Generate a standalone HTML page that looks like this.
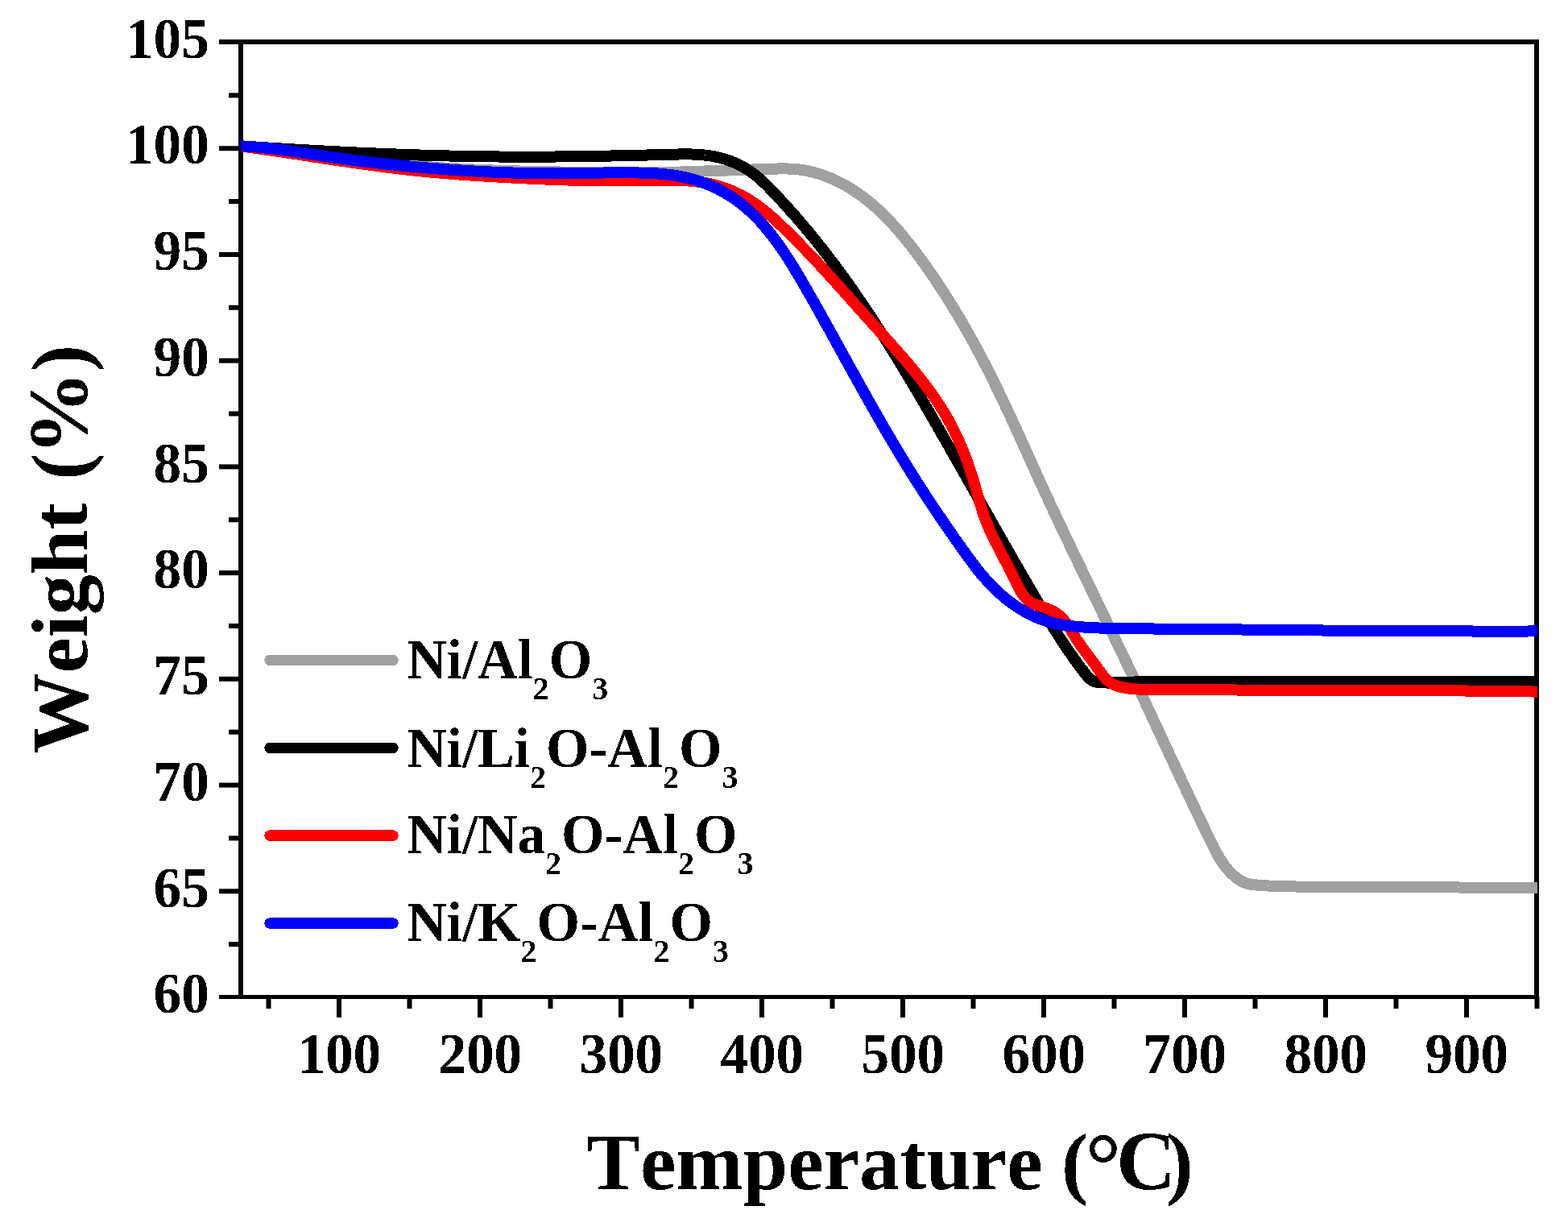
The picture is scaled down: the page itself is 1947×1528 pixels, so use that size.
<!DOCTYPE html>
<html><head><meta charset="utf-8"><title>TGA curves</title>
<style>
html,body{margin:0;padding:0;background:#fff;overflow:hidden;width:1947px;height:1528px;}
svg{display:block;}
text{font-family:"Liberation Serif","Times New Roman",serif;font-weight:bold;fill:#000;font-kerning:none;font-feature-settings:"kern" 0;}
.tl text{font-size:71px;}
.ttl{font-size:100px;}
.lg{font-size:70.5px;}
.s{font-size:41px;}
</style></head><body>
<svg width="1947" height="1528" viewBox="0 0 1947 1528">
<defs><clipPath id="plotclip"><rect x="299" y="0" width="1610" height="1528"/></clipPath><filter id="bin" x="0" y="0" width="100%" height="100%" filterUnits="userSpaceOnUse" color-interpolation-filters="sRGB"><feComponentTransfer><feFuncA type="discrete" tableValues="0 1"/></feComponentTransfer></filter></defs>
<rect width="1947" height="1528" fill="#fff"/>
<g fill="#000">
<rect x="296" y="49" width="1615" height="6"/>
<rect x="296" y="1235" width="1615" height="5"/>
<rect x="296" y="49" width="6" height="1191"/>
<rect x="1905" y="49" width="6" height="1191"/>
<rect x="284" y="1169.14" width="15" height="6"/>
<rect x="272" y="1103.28" width="27" height="6"/>
<rect x="284" y="1037.42" width="15" height="6"/>
<rect x="272" y="971.56" width="27" height="6"/>
<rect x="284" y="905.69" width="15" height="6"/>
<rect x="272" y="839.83" width="27" height="6"/>
<rect x="284" y="773.97" width="15" height="6"/>
<rect x="272" y="708.11" width="27" height="6"/>
<rect x="284" y="642.25" width="15" height="6"/>
<rect x="272" y="576.39" width="27" height="6"/>
<rect x="284" y="510.53" width="15" height="6"/>
<rect x="272" y="444.67" width="27" height="6"/>
<rect x="284" y="378.81" width="15" height="6"/>
<rect x="272" y="312.94" width="27" height="6"/>
<rect x="284" y="247.08" width="15" height="6"/>
<rect x="272" y="181.22" width="27" height="6"/>
<rect x="284" y="115.36" width="15" height="6"/>
<rect x="272" y="49" width="30" height="6"/>
<rect x="272" y="1235" width="30" height="5"/>
<rect x="330.50" y="1237" width="6" height="15"/>
<rect x="418.00" y="1237" width="6" height="26"/>
<rect x="505.50" y="1237" width="6" height="15"/>
<rect x="593.00" y="1237" width="6" height="26"/>
<rect x="680.50" y="1237" width="6" height="15"/>
<rect x="768.00" y="1237" width="6" height="26"/>
<rect x="855.50" y="1237" width="6" height="15"/>
<rect x="943.00" y="1237" width="6" height="26"/>
<rect x="1030.50" y="1237" width="6" height="15"/>
<rect x="1118.00" y="1237" width="6" height="26"/>
<rect x="1205.50" y="1237" width="6" height="15"/>
<rect x="1293.00" y="1237" width="6" height="26"/>
<rect x="1380.50" y="1237" width="6" height="15"/>
<rect x="1468.00" y="1237" width="6" height="26"/>
<rect x="1555.50" y="1237" width="6" height="15"/>
<rect x="1643.00" y="1237" width="6" height="26"/>
<rect x="1730.50" y="1237" width="6" height="15"/>
<rect x="1818.00" y="1237" width="6" height="26"/>
<rect x="1905.50" y="1237" width="6" height="15"/>
</g>
<g filter="url(#bin)">
<g class="tl"><text transform="translate(259.8,1257.2) scale(0.975,1)" text-anchor="end">60</text><text transform="translate(259.8,1125.5) scale(0.975,1)" text-anchor="end">65</text><text transform="translate(259.8,993.8) scale(0.975,1)" text-anchor="end">70</text><text transform="translate(259.8,862.0) scale(0.975,1)" text-anchor="end">75</text><text transform="translate(259.8,730.3) scale(0.975,1)" text-anchor="end">80</text><text transform="translate(259.8,598.6) scale(0.975,1)" text-anchor="end">85</text><text transform="translate(259.8,466.9) scale(0.975,1)" text-anchor="end">90</text><text transform="translate(259.8,335.1) scale(0.975,1)" text-anchor="end">95</text><text transform="translate(259.8,203.4) scale(0.975,1)" text-anchor="end">100</text><text transform="translate(259.8,71.7) scale(0.975,1)" text-anchor="end">105</text><text transform="translate(421.3,1332) scale(0.975,1)" text-anchor="middle">100</text><text transform="translate(596.3,1332) scale(0.975,1)" text-anchor="middle">200</text><text transform="translate(771.3,1332) scale(0.975,1)" text-anchor="middle">300</text><text transform="translate(946.3,1332) scale(0.975,1)" text-anchor="middle">400</text><text transform="translate(1121.3,1332) scale(0.975,1)" text-anchor="middle">500</text><text transform="translate(1296.3,1332) scale(0.975,1)" text-anchor="middle">600</text><text transform="translate(1471.3,1332) scale(0.975,1)" text-anchor="middle">700</text><text transform="translate(1646.3,1332) scale(0.975,1)" text-anchor="middle">800</text><text transform="translate(1821.3,1332) scale(0.975,1)" text-anchor="middle">900</text></g>
<text class="ttl" x="728.2" y="1476">Temperature <tspan x="1318.1">(</tspan><tspan x="1347.5" dy="7.5" style="font-size:112px">°</tspan><tspan x="1386.1" dy="-7.5" style="font-size:103px">C</tspan><tspan x="1448.3">)</tspan></text>
<text class="ttl" transform="rotate(-90)" x="-935.5" y="108">Weight <tspan x="-595.7">(</tspan><tspan x="-564.8" style="font-size:104px">%</tspan><tspan x="-461.3">)</tspan></text>
</g>
<g clip-path="url(#plotclip)">
<path d="M294.1,180.5L295.6,180.7L297.0,180.9L298.5,181.0L300.0,181.2L301.5,181.4L303.0,181.5L304.5,181.7L306.0,181.9L307.5,182.1L309.0,182.2L310.5,182.4L311.9,182.6L313.4,182.7L314.9,182.9L316.4,183.1L317.9,183.3L319.4,183.4L320.9,183.6L322.4,183.8L323.9,184.0L325.4,184.1L326.8,184.3L328.3,184.5L329.8,184.7L331.3,184.8L332.8,185.0L334.3,185.2L335.8,185.4L337.3,185.6L338.8,185.7L340.2,185.9L341.7,186.1L343.2,186.3L344.7,186.5L346.2,186.6L347.7,186.8L349.2,187.0L350.7,187.2L352.2,187.4L353.6,187.5L355.1,187.7L356.6,187.9L358.1,188.1L359.6,188.3L361.1,188.5L362.6,188.6L364.1,188.8L365.6,189.0L367.0,189.2L368.5,189.4L370.0,189.6L371.5,189.7L373.0,189.9L374.5,190.1L376.0,190.3L377.5,190.5L379.0,190.7L380.4,190.8L381.9,191.0L383.4,191.2L384.9,191.4L386.4,191.6L387.9,191.8L389.4,191.9L390.9,192.1L392.4,192.3L393.8,192.5L395.3,192.7L396.8,192.9L398.3,193.0L399.8,193.2L401.3,193.4L402.8,193.6L404.3,193.8L405.8,193.9L407.2,194.1L408.7,194.3L410.2,194.5L411.7,194.7L413.2,194.8L414.7,195.0L416.2,195.2L417.7,195.4L419.2,195.6L420.7,195.7L422.1,195.9L423.6,196.1L425.1,196.3L426.6,196.4L428.1,196.6L429.6,196.8L431.1,197.0L432.6,197.1L434.1,197.3L435.5,197.5L437.0,197.7L438.5,197.8L440.0,198.0L441.5,198.2L443.0,198.3L444.5,198.5L446.0,198.7L447.5,198.9L449.0,199.0L450.5,199.2L451.9,199.4L453.4,199.5L454.9,199.7L456.4,199.9L457.9,200.0L459.4,200.2L460.9,200.4L462.4,200.5L463.9,200.7L465.4,200.8L466.9,201.0L468.3,201.2L469.8,201.3L471.3,201.5L472.8,201.6L474.3,201.8L475.8,201.9L477.3,202.1L478.8,202.3L480.3,202.4L481.8,202.6L483.3,202.7L484.8,202.9L486.2,203.0L487.7,203.2L489.2,203.3L490.7,203.5L492.2,203.6L493.7,203.7L495.2,203.9L496.7,204.0L498.2,204.2L499.7,204.3L501.2,204.5L502.7,204.6L504.2,204.7L505.7,204.9L507.2,205.0L508.6,205.1L510.1,205.3L511.6,205.4L513.1,205.5L514.6,205.7L516.1,205.8L517.6,205.9L519.1,206.1L520.6,206.2L522.1,206.3L523.6,206.4L525.1,206.5L526.6,206.7L528.1,206.8L529.6,206.9L531.1,207.0L532.6,207.1L534.1,207.3L535.6,207.4L537.0,207.5L538.5,207.6L540.0,207.7L541.5,207.8L543.0,207.9L544.5,208.0L546.0,208.1L547.5,208.2L549.0,208.3L550.5,208.4L552.0,208.5L553.5,208.6L555.0,208.7L556.5,208.8L558.0,208.9L559.5,209.0L561.0,209.1L562.5,209.2L564.0,209.3L565.5,209.3L567.0,209.4L568.5,209.5L570.0,209.6L571.5,209.7L573.0,209.8L574.5,209.8L576.0,209.9L577.5,210.0L579.0,210.1L580.5,210.1L582.0,210.2L583.5,210.3L585.0,210.4L586.5,210.4L588.0,210.5L589.5,210.6L591.0,210.6L592.5,210.7L594.0,210.8L595.5,210.8L596.9,210.9L598.4,211.0L599.9,211.0L601.4,211.1L602.9,211.1L604.4,211.2L605.9,211.3L607.4,211.3L608.9,211.4L610.4,211.4L611.9,211.5L613.4,211.5L614.9,211.6L616.4,211.6L617.9,211.7L619.4,211.7L620.9,211.8L622.4,211.8L623.9,211.9L625.4,211.9L626.9,212.0L628.4,212.0L629.9,212.1L631.4,212.1L632.9,212.1L634.4,212.2L635.9,212.2L637.4,212.3L638.9,212.3L640.4,212.4L641.9,212.4L643.4,212.4L644.9,212.5L646.4,212.5L647.9,212.5L649.4,212.6L650.9,212.6L652.4,212.6L653.9,212.7L655.4,212.7L656.9,212.7L658.4,212.8L659.9,212.8L661.4,212.8L662.9,212.9L664.4,212.9L665.9,212.9L667.4,213.0L668.9,213.0L670.4,213.0L671.9,213.0L673.4,213.1L674.9,213.1L676.4,213.1L677.9,213.2L679.4,213.2L680.9,213.2L682.4,213.2L683.9,213.3L685.4,213.3L686.9,213.3L688.4,213.3L689.9,213.4L691.4,213.4L692.9,213.4L694.4,213.4L695.9,213.5L697.4,213.5L698.9,213.5L700.4,213.5L701.9,213.5L703.4,213.6L704.9,213.6L706.4,213.6L707.9,213.6L709.4,213.7L710.9,213.7L712.4,213.7L713.9,213.7L715.4,213.7L716.9,213.8L718.4,213.8L719.9,213.8L721.4,213.8L722.9,213.9L724.4,213.9L725.9,213.9L727.4,213.9L728.9,213.9L730.4,214.0L731.9,214.0L733.4,214.0L734.9,214.0L736.4,214.0L737.9,214.1L739.4,214.1L740.9,214.1L742.4,214.1L743.9,214.1L745.4,214.2L746.9,214.2L748.4,214.2L749.9,214.2L751.4,214.2L752.9,214.2L754.4,214.3L755.9,214.3L757.4,214.3L758.9,214.3L760.4,214.3L761.9,214.3L763.4,214.3L764.9,214.3L766.4,214.4L767.9,214.4L769.4,214.4L770.9,214.4L772.4,214.4L773.9,214.4L775.4,214.4L776.9,214.4L778.4,214.4L779.9,214.4L781.4,214.4L782.9,214.4L784.4,214.4L785.9,214.4L787.4,214.4L788.9,214.4L790.4,214.4L791.9,214.4L793.4,214.4L794.9,214.4L796.4,214.4L797.9,214.4L799.4,214.4L800.9,214.4L802.4,214.4L803.9,214.3L805.4,214.3L806.9,214.3L808.4,214.3L809.9,214.3L811.4,214.3L812.9,214.2L814.4,214.2L815.9,214.2L817.4,214.2L818.9,214.1L820.4,214.1L821.9,214.1L823.4,214.1L824.9,214.0L826.4,214.0L827.9,214.0L829.4,213.9L830.9,213.9L832.4,213.8L833.9,213.8L835.4,213.8L836.9,213.7L838.4,213.7L839.9,213.6L841.4,213.6L842.9,213.5L844.4,213.5L845.9,213.5L847.4,213.4L848.9,213.4L850.4,213.3L851.9,213.3L853.4,213.2L854.9,213.2L856.4,213.1L857.9,213.1L859.4,213.0L860.9,213.0L862.4,212.9L863.9,212.8L865.4,212.8L866.9,212.7L868.4,212.7L869.9,212.6L871.4,212.6L872.9,212.5L874.4,212.5L875.9,212.4L877.4,212.4L878.9,212.3L880.4,212.3L881.9,212.2L883.4,212.1L884.9,212.1L886.4,212.0L887.9,212.0L889.4,211.9L890.9,211.9L892.4,211.8L893.9,211.8L895.4,211.7L896.9,211.7L898.4,211.6L899.9,211.6L901.4,211.5L902.9,211.5L904.4,211.4L905.9,211.4L907.4,211.3L908.9,211.3L910.4,211.2L911.9,211.2L913.4,211.1L914.9,211.1L916.4,211.1L917.9,211.0L919.4,211.0L920.9,210.9L922.4,210.9L923.9,210.8L925.3,210.8L926.8,210.7L928.3,210.7L929.8,210.6L931.3,210.6L932.8,210.5L934.3,210.5L935.8,210.4L937.3,210.4L938.8,210.3L940.3,210.3L941.8,210.2L943.3,210.2L944.8,210.1L946.3,210.1L947.8,210.0L949.3,210.0L950.8,209.9L952.3,209.9L953.8,209.8L955.3,209.8L956.8,209.7L958.3,209.7L959.8,209.6L961.3,209.6L962.8,209.5L964.3,209.5L965.8,209.5L967.3,209.4L968.8,209.4L970.3,209.4L971.8,209.4L973.3,209.4L974.8,209.4L976.3,209.4L977.8,209.5L979.3,209.5L980.8,209.6L982.3,209.6L983.8,209.7L985.3,209.8L986.8,209.9L988.3,210.1L989.8,210.2L991.3,210.4L992.8,210.5L994.3,210.7L995.8,211.0L997.2,211.2L998.7,211.4L1000.2,211.7L1001.7,212.0L1003.1,212.3L1004.6,212.6L1006.1,212.9L1007.5,213.3L1009.0,213.6L1010.4,214.0L1011.9,214.4L1013.3,214.8L1014.8,215.2L1016.2,215.7L1017.6,216.1L1019.1,216.6L1020.5,217.0L1021.9,217.5L1023.3,218.0L1024.7,218.5L1026.1,219.1L1027.5,219.6L1028.9,220.2L1030.3,220.7L1031.7,221.3L1033.1,221.9L1034.4,222.5L1035.8,223.1L1037.2,223.8L1038.5,224.4L1039.9,225.1L1041.2,225.7L1042.6,226.4L1043.9,227.1L1045.2,227.8L1046.5,228.5L1047.9,229.2L1049.2,229.9L1050.5,230.7L1051.8,231.4L1053.1,232.2L1054.4,233.0L1055.6,233.7L1056.9,234.5L1058.2,235.3L1059.4,236.1L1060.7,236.9L1062.0,237.8L1063.2,238.6L1064.4,239.4L1065.7,240.3L1066.9,241.2L1068.1,242.0L1069.3,242.9L1070.6,243.8L1071.8,244.7L1073.0,245.6L1074.1,246.5L1075.3,247.4L1076.5,248.4L1077.7,249.3L1078.9,250.2L1080.0,251.2L1081.2,252.1L1082.3,253.1L1083.5,254.1L1084.6,255.0L1085.7,256.0L1086.9,257.0L1088.0,258.0L1089.1,259.0L1090.2,260.0L1091.3,261.1L1092.4,262.1L1093.5,263.1L1094.6,264.1L1095.7,265.2L1096.7,266.2L1097.8,267.3L1098.9,268.3L1099.9,269.4L1101.0,270.5L1102.0,271.5L1103.1,272.6L1104.1,273.7L1105.1,274.8L1106.2,275.9L1107.2,277.0L1108.2,278.1L1109.2,279.2L1110.2,280.3L1111.2,281.4L1112.2,282.5L1113.2,283.6L1114.2,284.8L1115.2,285.9L1116.2,287.0L1117.2,288.2L1118.1,289.3L1119.1,290.5L1120.1,291.6L1121.0,292.8L1122.0,293.9L1123.0,295.1L1123.9,296.2L1124.8,297.4L1125.8,298.6L1126.7,299.7L1127.7,300.9L1128.6,302.1L1129.5,303.3L1130.4,304.4L1131.4,305.6L1132.3,306.8L1133.2,308.0L1134.1,309.2L1135.0,310.4L1135.9,311.6L1136.8,312.8L1137.7,314.0L1138.6,315.2L1139.5,316.4L1140.4,317.6L1141.3,318.8L1142.2,320.0L1143.1,321.2L1144.0,322.4L1144.9,323.6L1145.7,324.8L1146.6,326.1L1147.5,327.3L1148.4,328.5L1149.2,329.7L1150.1,330.9L1151.0,332.2L1151.8,333.4L1152.7,334.6L1153.6,335.8L1154.4,337.1L1155.3,338.3L1156.1,339.5L1157.0,340.8L1157.8,342.0L1158.7,343.3L1159.5,344.5L1160.4,345.7L1161.2,347.0L1162.0,348.2L1162.9,349.5L1163.7,350.7L1164.5,352.0L1165.4,353.2L1166.2,354.5L1167.0,355.7L1167.9,357.0L1168.7,358.2L1169.5,359.5L1170.3,360.7L1171.1,362.0L1171.9,363.3L1172.8,364.5L1173.6,365.8L1174.4,367.0L1175.2,368.3L1176.0,369.6L1176.8,370.8L1177.6,372.1L1178.4,373.4L1179.2,374.7L1180.0,375.9L1180.8,377.2L1181.5,378.5L1182.3,379.8L1183.1,381.0L1183.9,382.3L1184.7,383.6L1185.5,384.9L1186.2,386.2L1187.0,387.4L1187.8,388.7L1188.6,390.0L1189.3,391.3L1190.1,392.6L1190.9,393.9L1191.6,395.2L1192.4,396.5L1193.1,397.8L1193.9,399.1L1194.7,400.3L1195.4,401.6L1196.2,402.9L1196.9,404.2L1197.7,405.5L1198.4,406.8L1199.2,408.1L1199.9,409.4L1200.6,410.7L1201.4,412.1L1202.1,413.4L1202.9,414.7L1203.6,416.0L1204.3,417.3L1205.1,418.6L1205.8,419.9L1206.5,421.2L1207.2,422.5L1208.0,423.8L1208.7,425.2L1209.4,426.5L1210.1,427.8L1210.8,429.1L1211.6,430.4L1212.3,431.7L1213.0,433.1L1213.7,434.4L1214.4,435.7L1215.1,437.0L1215.8,438.3L1216.5,439.7L1217.2,441.0L1217.9,442.3L1218.6,443.6L1219.3,445.0L1220.0,446.3L1220.7,447.6L1221.4,449.0L1222.1,450.3L1222.8,451.6L1223.5,453.0L1224.2,454.3L1224.9,455.6L1225.5,457.0L1226.2,458.3L1226.9,459.6L1227.6,461.0L1228.3,462.3L1228.9,463.6L1229.6,465.0L1230.3,466.3L1231.0,467.7L1231.6,469.0L1232.3,470.4L1233.0,471.7L1233.6,473.0L1234.3,474.4L1235.0,475.7L1235.6,477.1L1236.3,478.4L1236.9,479.8L1237.6,481.1L1238.3,482.5L1238.9,483.8L1239.6,485.2L1240.2,486.5L1240.9,487.9L1241.5,489.2L1242.2,490.6L1242.8,491.9L1243.5,493.3L1244.1,494.6L1244.8,496.0L1245.4,497.3L1246.1,498.7L1246.7,500.0L1247.3,501.4L1248.0,502.8L1248.6,504.1L1249.3,505.5L1249.9,506.8L1250.5,508.2L1251.2,509.6L1251.8,510.9L1252.4,512.3L1253.1,513.6L1253.7,515.0L1254.3,516.4L1255.0,517.7L1255.6,519.1L1256.2,520.4L1256.8,521.8L1257.5,523.2L1258.1,524.5L1258.7,525.9L1259.3,527.3L1260.0,528.6L1260.6,530.0L1261.2,531.3L1261.8,532.7L1262.5,534.1L1263.1,535.4L1263.7,536.8L1264.3,538.2L1264.9,539.5L1265.6,540.9L1266.2,542.3L1266.8,543.6L1267.4,545.0L1268.0,546.4L1268.7,547.7L1269.3,549.1L1269.9,550.5L1270.5,551.8L1271.1,553.2L1271.8,554.6L1272.4,555.9L1273.0,557.3L1273.6,558.7L1274.2,560.0L1274.8,561.4L1275.5,562.8L1276.1,564.1L1276.7,565.5L1277.3,566.9L1277.9,568.2L1278.5,569.6L1279.2,571.0L1279.8,572.3L1280.4,573.7L1281.0,575.1L1281.6,576.4L1282.2,577.8L1282.9,579.2L1283.5,580.5L1284.1,581.9L1284.7,583.3L1285.3,584.6L1286.0,586.0L1286.6,587.4L1287.2,588.7L1287.8,590.1L1288.4,591.5L1289.1,592.8L1289.7,594.2L1290.3,595.6L1290.9,596.9L1291.5,598.3L1292.2,599.7L1292.8,601.0L1293.4,602.4L1294.0,603.7L1294.7,605.1L1295.3,606.5L1295.9,607.8L1296.6,609.2L1297.2,610.6L1297.8,611.9L1298.4,613.3L1299.1,614.6L1299.7,616.0L1300.3,617.4L1301.0,618.7L1301.6,620.1L1302.2,621.4L1302.9,622.8L1303.5,624.2L1304.1,625.5L1304.8,626.9L1305.4,628.2L1306.0,629.6L1306.7,631.0L1307.3,632.3L1307.9,633.7L1308.6,635.0L1309.2,636.4L1309.8,637.8L1310.5,639.1L1311.1,640.5L1311.8,641.8L1312.4,643.2L1313.0,644.5L1313.7,645.9L1314.3,647.3L1315.0,648.6L1315.6,650.0L1316.2,651.3L1316.9,652.7L1317.5,654.0L1318.2,655.4L1318.8,656.7L1319.5,658.1L1320.1,659.5L1320.7,660.8L1321.4,662.2L1322.0,663.5L1322.7,664.9L1323.3,666.2L1324.0,667.6L1324.6,668.9L1325.3,670.3L1325.9,671.6L1326.6,673.0L1327.2,674.3L1327.9,675.7L1328.5,677.1L1329.2,678.4L1329.8,679.8L1330.4,681.1L1331.1,682.5L1331.7,683.8L1332.4,685.2L1333.0,686.5L1333.7,687.9L1334.3,689.2L1335.0,690.6L1335.6,691.9L1336.3,693.3L1336.9,694.6L1337.6,696.0L1338.2,697.3L1338.9,698.7L1339.6,700.0L1340.2,701.4L1340.9,702.7L1341.5,704.1L1342.2,705.4L1342.8,706.8L1343.5,708.1L1344.1,709.5L1344.8,710.8L1345.4,712.2L1346.1,713.5L1346.7,714.9L1347.4,716.2L1348.0,717.6L1348.7,718.9L1349.3,720.3L1350.0,721.6L1350.7,723.0L1351.3,724.3L1352.0,725.7L1352.6,727.0L1353.3,728.4L1353.9,729.7L1354.6,731.1L1355.2,732.4L1355.9,733.8L1356.5,735.1L1357.2,736.5L1357.8,737.8L1358.5,739.2L1359.2,740.5L1359.8,741.9L1360.5,743.2L1361.1,744.6L1361.8,745.9L1362.4,747.3L1363.1,748.6L1363.7,750.0L1364.4,751.3L1365.0,752.7L1365.7,754.0L1366.4,755.4L1367.0,756.7L1367.7,758.1L1368.3,759.4L1369.0,760.8L1369.6,762.1L1370.3,763.5L1370.9,764.8L1371.6,766.2L1372.2,767.5L1372.9,768.9L1373.6,770.2L1374.2,771.6L1374.9,772.9L1375.5,774.3L1376.2,775.6L1376.8,777.0L1377.5,778.3L1378.1,779.7L1378.8,781.0L1379.4,782.4L1380.1,783.7L1380.7,785.1L1381.4,786.4L1382.0,787.8L1382.7,789.1L1383.3,790.5L1384.0,791.8L1384.6,793.2L1385.3,794.5L1385.9,795.9L1386.6,797.2L1387.2,798.6L1387.9,799.9L1388.5,801.3L1389.2,802.7L1389.8,804.0L1390.5,805.4L1391.1,806.7L1391.8,808.1L1392.4,809.4L1393.1,810.8L1393.7,812.1L1394.4,813.5L1395.0,814.8L1395.7,816.2L1396.3,817.5L1397.0,818.9L1397.6,820.2L1398.3,821.6L1398.9,822.9L1399.6,824.3L1400.2,825.7L1400.9,827.0L1401.5,828.4L1402.1,829.7L1402.8,831.1L1403.4,832.4L1404.1,833.8L1404.7,835.1L1405.4,836.5L1406.0,837.8L1406.6,839.2L1407.3,840.6L1407.9,841.9L1408.6,843.3L1409.2,844.6L1409.9,846.0L1410.5,847.3L1411.1,848.7L1411.8,850.1L1412.4,851.4L1413.1,852.8L1413.7,854.1L1414.3,855.5L1415.0,856.8L1415.6,858.2L1416.2,859.6L1416.9,860.9L1417.5,862.3L1418.2,863.6L1418.8,865.0L1419.4,866.3L1420.1,867.7L1420.7,869.1L1421.3,870.4L1422.0,871.8L1422.6,873.1L1423.3,874.5L1423.9,875.8L1424.5,877.2L1425.2,878.6L1425.8,879.9L1426.4,881.3L1427.1,882.6L1427.7,884.0L1428.3,885.4L1429.0,886.7L1429.6,888.1L1430.2,889.4L1430.9,890.8L1431.5,892.2L1432.1,893.5L1432.8,894.9L1433.4,896.2L1434.0,897.6L1434.7,899.0L1435.3,900.3L1435.9,901.7L1436.6,903.0L1437.2,904.4L1437.8,905.8L1438.5,907.1L1439.1,908.5L1439.7,909.8L1440.4,911.2L1441.0,912.5L1441.6,913.9L1442.3,915.3L1442.9,916.6L1443.5,918.0L1444.2,919.3L1444.8,920.7L1445.4,922.1L1446.1,923.4L1446.7,924.8L1447.3,926.1L1448.0,927.5L1448.6,928.9L1449.3,930.2L1449.9,931.6L1450.5,932.9L1451.2,934.3L1451.8,935.7L1452.4,937.0L1453.1,938.4L1453.7,939.7L1454.3,941.1L1455.0,942.5L1455.6,943.8L1456.2,945.2L1456.9,946.5L1457.5,947.9L1458.1,949.3L1458.8,950.6L1459.4,952.0L1460.0,953.3L1460.7,954.7L1461.3,956.0L1461.9,957.4L1462.6,958.8L1463.2,960.1L1463.9,961.5L1464.5,962.8L1465.1,964.2L1465.8,965.6L1466.4,966.9L1467.0,968.3L1467.7,969.6L1468.3,971.0L1469.0,972.3L1469.6,973.7L1470.2,975.1L1470.9,976.4L1471.5,977.8L1472.2,979.1L1472.8,980.5L1473.4,981.8L1474.1,983.2L1474.7,984.6L1475.4,985.9L1476.0,987.3L1476.6,988.6L1477.3,990.0L1477.9,991.3L1478.6,992.7L1479.2,994.0L1479.8,995.4L1480.5,996.8L1481.1,998.1L1481.8,999.5L1482.4,1000.8L1483.1,1002.2L1483.7,1003.5L1484.4,1004.9L1485.0,1006.2L1485.6,1007.6L1486.3,1008.9L1486.9,1010.3L1487.6,1011.6L1488.2,1013.0L1488.9,1014.4L1489.5,1015.7L1490.2,1017.1L1490.8,1018.4L1491.5,1019.8L1492.1,1021.1L1492.8,1022.5L1493.4,1023.8L1494.1,1025.2L1494.7,1026.5L1495.4,1027.9L1496.0,1029.2L1496.7,1030.6L1497.3,1031.9L1498.0,1033.3L1498.7,1034.6L1499.3,1036.0L1500.0,1037.3L1500.6,1038.7L1501.3,1040.0L1501.9,1041.4L1502.6,1042.7L1503.2,1044.1L1503.9,1045.4L1504.6,1046.8L1505.2,1048.1L1505.9,1049.4L1506.6,1050.8L1507.2,1052.1L1507.9,1053.5L1508.6,1054.8L1509.3,1056.1L1510.0,1057.5L1510.7,1058.8L1511.4,1060.1L1512.2,1061.4L1512.9,1062.7L1513.7,1064.0L1514.5,1065.3L1515.2,1066.6L1516.0,1067.8L1516.8,1069.1L1517.7,1070.3L1518.5,1071.6L1519.4,1072.8L1520.3,1074.0L1521.2,1075.2L1522.1,1076.4L1523.0,1077.6L1524.0,1078.7L1524.9,1079.9L1525.9,1081.0L1527.0,1082.1L1528.0,1083.2L1529.1,1084.2L1530.1,1085.3L1531.3,1086.3L1532.4,1087.3L1533.5,1088.2L1534.7,1089.2L1535.9,1090.1L1537.1,1091.0L1538.4,1091.8L1539.6,1092.6L1540.9,1093.4L1542.2,1094.1L1543.6,1094.7L1544.9,1095.4L1546.3,1095.9L1547.8,1096.4L1549.2,1096.9L1550.6,1097.2L1552.1,1097.5L1553.6,1097.8L1555.1,1098.0L1556.6,1098.2L1558.1,1098.3L1559.5,1098.4L1561.0,1098.6L1562.5,1098.7L1564.0,1098.8L1565.5,1098.9L1567.0,1099.0L1568.5,1099.1L1570.0,1099.2L1571.5,1099.3L1573.0,1099.4L1574.5,1099.5L1576.0,1099.5L1577.5,1099.6L1579.0,1099.7L1580.5,1099.7L1582.0,1099.8L1583.5,1099.9L1585.0,1099.9L1586.5,1100.0L1588.0,1100.0L1589.5,1100.1L1591.0,1100.1L1592.5,1100.2L1594.0,1100.2L1595.5,1100.2L1597.0,1100.3L1598.5,1100.3L1600.0,1100.3L1601.5,1100.4L1603.0,1100.4L1604.5,1100.4L1606.0,1100.4L1607.5,1100.4L1609.0,1100.5L1610.5,1100.5L1612.0,1100.5L1613.5,1100.5L1615.0,1100.5L1616.5,1100.5L1618.0,1100.5L1619.5,1100.5L1621.0,1100.5L1622.5,1100.5L1624.0,1100.5L1625.5,1100.5L1627.0,1100.5L1628.5,1100.6L1630.0,1100.6L1631.5,1100.5L1633.0,1100.5L1634.5,1100.5L1636.0,1100.5L1637.5,1100.5L1639.0,1100.5L1640.5,1100.5L1642.0,1100.5L1643.5,1100.5L1645.0,1100.5L1646.5,1100.5L1648.0,1100.5L1649.5,1100.5L1651.0,1100.5L1652.5,1100.5L1654.0,1100.5L1655.5,1100.5L1657.0,1100.5L1658.5,1100.5L1660.0,1100.5L1661.5,1100.5L1663.0,1100.6L1664.5,1100.6L1666.0,1100.6L1667.5,1100.6L1669.0,1100.6L1670.5,1100.6L1672.0,1100.6L1673.5,1100.6L1675.0,1100.6L1676.5,1100.6L1678.0,1100.6L1679.5,1100.6L1681.0,1100.7L1682.5,1100.7L1684.0,1100.7L1685.5,1100.7L1687.0,1100.7L1688.5,1100.7L1690.0,1100.7L1691.5,1100.7L1693.0,1100.7L1694.5,1100.8L1696.0,1100.8L1697.5,1100.8L1699.0,1100.8L1700.5,1100.8L1702.0,1100.8L1703.5,1100.8L1705.0,1100.9L1706.5,1100.9L1708.0,1100.9L1709.5,1100.9L1711.0,1100.9L1712.5,1100.9L1714.0,1100.9L1715.5,1101.0L1717.0,1101.0L1718.5,1101.0L1720.0,1101.0L1721.5,1101.0L1723.0,1101.0L1724.5,1101.0L1726.0,1101.1L1727.5,1101.1L1729.0,1101.1L1730.5,1101.1L1732.0,1101.1L1733.5,1101.1L1735.0,1101.1L1736.5,1101.1L1738.0,1101.1L1739.5,1101.2L1741.0,1101.2L1742.5,1101.2L1744.0,1101.2L1745.5,1101.2L1747.0,1101.2L1748.5,1101.2L1750.0,1101.2L1751.5,1101.2L1753.0,1101.2L1754.5,1101.2L1756.0,1101.3L1757.5,1101.3L1759.0,1101.3L1760.5,1101.3L1762.0,1101.3L1763.5,1101.3L1765.0,1101.3L1766.5,1101.3L1768.0,1101.3L1769.5,1101.3L1771.0,1101.3L1772.5,1101.3L1774.0,1101.3L1775.5,1101.3L1777.0,1101.3L1778.5,1101.4L1780.0,1101.4L1781.5,1101.4L1783.0,1101.4L1784.5,1101.4L1786.0,1101.4L1787.5,1101.4L1789.0,1101.4L1790.5,1101.4L1792.0,1101.4L1793.5,1101.4L1795.0,1101.4L1796.5,1101.4L1798.0,1101.4L1799.5,1101.4L1801.0,1101.4L1802.5,1101.4L1804.0,1101.4L1805.5,1101.4L1807.0,1101.4L1808.5,1101.4L1810.0,1101.4L1811.5,1101.5L1813.0,1101.5L1814.5,1101.5L1816.0,1101.5L1817.5,1101.5L1819.0,1101.5L1820.5,1101.5L1822.0,1101.5L1823.5,1101.5L1825.0,1101.5L1826.5,1101.5L1828.0,1101.5L1829.5,1101.5L1831.0,1101.5L1832.5,1101.5L1834.0,1101.5L1835.5,1101.5L1837.0,1101.5L1838.5,1101.5L1840.0,1101.5L1841.5,1101.5L1843.0,1101.5L1844.5,1101.6L1846.0,1101.6L1847.5,1101.6L1849.0,1101.6L1850.5,1101.6L1852.0,1101.6L1853.5,1101.6L1855.0,1101.6L1856.5,1101.6L1858.0,1101.6L1859.5,1101.6L1861.0,1101.6L1862.5,1101.6L1864.0,1101.6L1865.5,1101.6L1867.0,1101.6L1868.5,1101.6L1870.0,1101.7L1871.5,1101.7L1873.0,1101.7L1874.5,1101.7L1876.0,1101.7L1877.5,1101.7L1879.0,1101.7L1880.5,1101.7L1882.0,1101.7L1883.5,1101.7L1885.0,1101.7L1886.5,1101.8L1888.0,1101.8L1889.5,1101.8L1891.0,1101.8L1892.5,1101.8L1894.0,1101.8L1895.5,1101.8L1897.0,1101.8L1898.5,1101.8L1900.0,1101.9L1901.5,1101.9L1903.0,1101.9L1904.5,1101.9L1906.0,1101.9L1907.5,1101.9L1909.0,1101.9L1910.5,1101.9L1912.0,1102.0L1913.5,1102.0" fill="none" stroke="#a0a0a0" stroke-width="14.0" stroke-linejoin="round" shape-rendering="crispEdges"/>
<path d="M294.0,181.0L295.5,181.1L297.0,181.2L298.5,181.3L300.0,181.4L301.5,181.5L303.0,181.6L304.5,181.7L306.0,181.8L307.5,181.9L309.0,182.0L310.5,182.1L312.0,182.2L313.5,182.3L315.0,182.4L316.5,182.5L318.0,182.5L319.5,182.6L320.9,182.7L322.4,182.8L323.9,182.9L325.4,183.0L326.9,183.1L328.4,183.2L329.9,183.3L331.4,183.4L332.9,183.5L334.4,183.6L335.9,183.7L337.4,183.8L338.9,183.9L340.4,184.0L341.9,184.1L343.4,184.1L344.9,184.2L346.4,184.3L347.9,184.4L349.4,184.5L350.9,184.6L352.4,184.7L353.9,184.8L355.4,184.9L356.9,185.0L358.4,185.0L359.9,185.1L361.4,185.2L362.9,185.3L364.4,185.4L365.9,185.5L367.4,185.6L368.8,185.6L370.3,185.7L371.8,185.8L373.3,185.9L374.8,186.0L376.3,186.1L377.8,186.2L379.3,186.2L380.8,186.3L382.3,186.4L383.8,186.5L385.3,186.6L386.8,186.7L388.3,186.7L389.8,186.8L391.3,186.9L392.8,187.0L394.3,187.1L395.8,187.1L397.3,187.2L398.8,187.3L400.3,187.4L401.8,187.5L403.3,187.5L404.8,187.6L406.3,187.7L407.8,187.8L409.3,187.9L410.8,187.9L412.3,188.0L413.8,188.1L415.3,188.2L416.8,188.2L418.3,188.3L419.8,188.4L421.3,188.5L422.8,188.5L424.3,188.6L425.8,188.7L427.3,188.7L428.8,188.8L430.2,188.9L431.7,189.0L433.2,189.0L434.7,189.1L436.2,189.2L437.7,189.2L439.2,189.3L440.7,189.4L442.2,189.5L443.7,189.5L445.2,189.6L446.7,189.7L448.2,189.7L449.7,189.8L451.2,189.9L452.7,189.9L454.2,190.0L455.7,190.1L457.2,190.1L458.7,190.2L460.2,190.2L461.7,190.3L463.2,190.4L464.7,190.4L466.2,190.5L467.7,190.6L469.2,190.6L470.7,190.7L472.2,190.7L473.7,190.8L475.2,190.9L476.7,190.9L478.2,191.0L479.7,191.0L481.2,191.1L482.7,191.2L484.2,191.2L485.7,191.3L487.2,191.3L488.7,191.4L490.2,191.4L491.7,191.5L493.2,191.6L494.7,191.6L496.2,191.7L497.7,191.7L499.2,191.8L500.7,191.8L502.2,191.9L503.7,191.9L505.2,192.0L506.7,192.0L508.2,192.1L509.7,192.1L511.2,192.2L512.7,192.2L514.2,192.3L515.7,192.3L517.2,192.4L518.7,192.4L520.2,192.5L521.7,192.5L523.2,192.6L524.7,192.6L526.1,192.6L527.6,192.7L529.1,192.7L530.6,192.8L532.1,192.8L533.6,192.9L535.1,192.9L536.6,192.9L538.1,193.0L539.6,193.0L541.1,193.1L542.6,193.1L544.1,193.1L545.6,193.2L547.1,193.2L548.6,193.3L550.1,193.3L551.6,193.3L553.1,193.4L554.6,193.4L556.1,193.4L557.6,193.5L559.1,193.5L560.6,193.5L562.1,193.6L563.6,193.6L565.1,193.6L566.6,193.7L568.1,193.7L569.6,193.7L571.1,193.8L572.6,193.8L574.1,193.8L575.6,193.9L577.1,193.9L578.6,193.9L580.1,193.9L581.6,194.0L583.1,194.0L584.6,194.0L586.1,194.0L587.6,194.1L589.1,194.1L590.6,194.1L592.1,194.1L593.6,194.2L595.1,194.2L596.6,194.2L598.1,194.2L599.6,194.2L601.1,194.3L602.6,194.3L604.1,194.3L605.6,194.3L607.1,194.3L608.6,194.4L610.1,194.4L611.6,194.4L613.1,194.4L614.6,194.4L616.1,194.4L617.6,194.4L619.1,194.5L620.6,194.5L622.1,194.5L623.6,194.5L625.1,194.5L626.6,194.5L628.1,194.5L629.6,194.5L631.1,194.5L632.6,194.5L634.1,194.6L635.6,194.6L637.1,194.6L638.6,194.6L640.1,194.6L641.6,194.6L643.1,194.6L644.6,194.6L646.1,194.6L647.6,194.6L649.1,194.6L650.6,194.6L652.1,194.6L653.6,194.6L655.1,194.6L656.6,194.6L658.1,194.6L659.6,194.6L661.1,194.6L662.6,194.6L664.1,194.6L665.6,194.6L667.1,194.6L668.6,194.6L670.1,194.6L671.6,194.6L673.1,194.6L674.6,194.6L676.1,194.5L677.6,194.5L679.1,194.5L680.6,194.5L682.1,194.5L683.6,194.5L685.1,194.5L686.6,194.5L688.1,194.5L689.6,194.5L691.1,194.4L692.6,194.4L694.1,194.4L695.6,194.4L697.1,194.4L698.6,194.4L700.1,194.4L701.6,194.3L703.1,194.3L704.6,194.3L706.1,194.3L707.6,194.3L709.1,194.3L710.6,194.2L712.1,194.2L713.6,194.2L715.1,194.2L716.6,194.2L718.1,194.1L719.6,194.1L721.1,194.1L722.6,194.1L724.1,194.1L725.6,194.0L727.1,194.0L728.6,194.0L730.1,194.0L731.6,194.0L733.1,193.9L734.6,193.9L736.1,193.9L737.6,193.9L739.1,193.8L740.6,193.8L742.1,193.8L743.6,193.8L745.1,193.7L746.6,193.7L748.1,193.7L749.6,193.6L751.1,193.6L752.6,193.6L754.1,193.6L755.6,193.5L757.1,193.5L758.6,193.5L760.1,193.4L761.6,193.4L763.1,193.4L764.6,193.4L766.1,193.3L767.6,193.3L769.1,193.3L770.6,193.2L772.1,193.2L773.6,193.2L775.1,193.1L776.6,193.1L778.1,193.1L779.6,193.0L781.1,193.0L782.6,193.0L784.1,192.9L785.6,192.9L787.0,192.9L788.5,192.8L790.0,192.8L791.5,192.8L793.0,192.7L794.5,192.7L796.0,192.7L797.5,192.6L799.0,192.6L800.5,192.5L802.0,192.5L803.5,192.5L805.0,192.4L806.5,192.4L808.0,192.4L809.5,192.3L811.0,192.3L812.5,192.2L814.0,192.2L815.5,192.2L817.0,192.1L818.5,192.1L820.0,192.1L821.5,192.0L823.0,192.0L824.5,191.9L826.0,191.9L827.5,191.9L829.0,191.8L830.5,191.8L832.0,191.7L833.5,191.7L835.0,191.7L836.5,191.6L838.0,191.6L839.5,191.5L841.0,191.5L842.5,191.5L844.0,191.4L845.5,191.4L847.0,191.4L848.5,191.4L850.0,191.4L851.5,191.4L853.0,191.4L854.5,191.4L856.0,191.4L857.5,191.4L859.0,191.5L860.5,191.5L862.0,191.6L863.5,191.6L865.0,191.7L866.5,191.8L868.0,191.9L869.5,192.0L871.0,192.1L872.5,192.3L874.0,192.4L875.5,192.6L877.0,192.7L878.4,192.9L879.9,193.1L881.4,193.4L882.9,193.6L884.4,193.9L885.8,194.1L887.3,194.4L888.8,194.7L890.2,195.0L891.7,195.4L893.2,195.7L894.6,196.1L896.1,196.5L897.5,196.9L899.0,197.3L900.4,197.7L901.8,198.2L903.2,198.7L904.7,199.1L906.1,199.7L907.5,200.2L908.9,200.7L910.3,201.3L911.7,201.8L913.0,202.4L914.4,203.0L915.8,203.6L917.1,204.3L918.5,205.0L919.8,205.6L921.1,206.3L922.5,207.0L923.8,207.8L925.1,208.5L926.4,209.3L927.6,210.1L928.9,210.9L930.2,211.7L931.4,212.5L932.6,213.4L933.8,214.3L935.0,215.2L936.2,216.1L937.4,217.0L938.6,217.9L939.8,218.9L940.9,219.9L942.0,220.8L943.2,221.8L944.3,222.8L945.4,223.8L946.5,224.8L947.6,225.9L948.7,226.9L949.8,227.9L950.9,229.0L951.9,230.0L953.0,231.1L954.0,232.1L955.1,233.2L956.1,234.3L957.2,235.4L958.2,236.4L959.3,237.5L960.3,238.6L961.3,239.7L962.4,240.8L963.4,241.9L964.4,243.0L965.4,244.1L966.5,245.2L967.5,246.3L968.5,247.4L969.5,248.5L970.6,249.6L971.6,250.7L972.6,251.8L973.6,252.9L974.6,254.0L975.6,255.1L976.6,256.2L977.6,257.3L978.6,258.4L979.6,259.5L980.6,260.7L981.6,261.8L982.6,262.9L983.6,264.0L984.6,265.1L985.6,266.3L986.6,267.4L987.6,268.5L988.6,269.6L989.6,270.8L990.5,271.9L991.5,273.0L992.5,274.2L993.5,275.3L994.5,276.5L995.4,277.6L996.4,278.7L997.4,279.9L998.3,281.0L999.3,282.2L1000.3,283.3L1001.2,284.5L1002.2,285.6L1003.2,286.8L1004.1,287.9L1005.1,289.1L1006.0,290.2L1007.0,291.4L1007.9,292.6L1008.9,293.7L1009.8,294.9L1010.8,296.0L1011.7,297.2L1012.7,298.4L1013.6,299.5L1014.5,300.7L1015.5,301.9L1016.4,303.1L1017.3,304.2L1018.3,305.4L1019.2,306.6L1020.1,307.8L1021.1,308.9L1022.0,310.1L1022.9,311.3L1023.8,312.5L1024.7,313.7L1025.7,314.9L1026.6,316.0L1027.5,317.2L1028.4,318.4L1029.3,319.6L1030.2,320.8L1031.1,322.0L1032.0,323.2L1032.9,324.4L1033.9,325.6L1034.8,326.8L1035.7,328.0L1036.6,329.2L1037.4,330.4L1038.3,331.6L1039.2,332.8L1040.1,334.0L1041.0,335.2L1041.9,336.4L1042.8,337.6L1043.7,338.8L1044.6,340.0L1045.4,341.3L1046.3,342.5L1047.2,343.7L1048.1,344.9L1049.0,346.1L1049.8,347.3L1050.7,348.6L1051.6,349.8L1052.5,351.0L1053.3,352.2L1054.2,353.4L1055.1,354.7L1055.9,355.9L1056.8,357.1L1057.7,358.3L1058.5,359.6L1059.4,360.8L1060.2,362.0L1061.1,363.3L1061.9,364.5L1062.8,365.7L1063.6,367.0L1064.5,368.2L1065.3,369.4L1066.2,370.7L1067.0,371.9L1067.9,373.1L1068.7,374.4L1069.6,375.6L1070.4,376.9L1071.3,378.1L1072.1,379.3L1072.9,380.6L1073.8,381.8L1074.6,383.1L1075.4,384.3L1076.3,385.6L1077.1,386.8L1077.9,388.1L1078.8,389.3L1079.6,390.6L1080.4,391.8L1081.3,393.1L1082.1,394.3L1082.9,395.6L1083.7,396.8L1084.5,398.1L1085.4,399.3L1086.2,400.6L1087.0,401.9L1087.8,403.1L1088.6,404.4L1089.4,405.6L1090.3,406.9L1091.1,408.1L1091.9,409.4L1092.7,410.7L1093.5,411.9L1094.3,413.2L1095.1,414.5L1095.9,415.7L1096.7,417.0L1097.5,418.3L1098.3,419.5L1099.1,420.8L1099.9,422.1L1100.7,423.3L1101.5,424.6L1102.3,425.9L1103.1,427.1L1103.9,428.4L1104.7,429.7L1105.5,431.0L1106.3,432.2L1107.1,433.5L1107.9,434.8L1108.7,436.0L1109.5,437.3L1110.3,438.6L1111.0,439.9L1111.8,441.2L1112.6,442.4L1113.4,443.7L1114.2,445.0L1115.0,446.3L1115.8,447.5L1116.5,448.8L1117.3,450.1L1118.1,451.4L1118.9,452.7L1119.7,453.9L1120.4,455.2L1121.2,456.5L1122.0,457.8L1122.8,459.1L1123.5,460.4L1124.3,461.6L1125.1,462.9L1125.9,464.2L1126.6,465.5L1127.4,466.8L1128.2,468.1L1128.9,469.4L1129.7,470.6L1130.5,471.9L1131.2,473.2L1132.0,474.5L1132.8,475.8L1133.5,477.1L1134.3,478.4L1135.1,479.7L1135.8,481.0L1136.6,482.3L1137.4,483.5L1138.1,484.8L1138.9,486.1L1139.6,487.4L1140.4,488.7L1141.2,490.0L1141.9,491.3L1142.7,492.6L1143.4,493.9L1144.2,495.2L1145.0,496.5L1145.7,497.8L1146.5,499.1L1147.2,500.4L1148.0,501.7L1148.7,502.9L1149.5,504.2L1150.2,505.5L1151.0,506.8L1151.8,508.1L1152.5,509.4L1153.3,510.7L1154.0,512.0L1154.8,513.3L1155.5,514.6L1156.3,515.9L1157.0,517.2L1157.8,518.5L1158.5,519.8L1159.3,521.1L1160.0,522.4L1160.8,523.7L1161.5,525.0L1162.3,526.3L1163.0,527.6L1163.8,528.9L1164.5,530.2L1165.3,531.5L1166.0,532.8L1166.7,534.1L1167.5,535.4L1168.2,536.7L1169.0,538.0L1169.7,539.3L1170.5,540.6L1171.2,541.9L1172.0,543.2L1172.7,544.5L1173.5,545.8L1174.2,547.1L1174.9,548.4L1175.7,549.7L1176.4,551.0L1177.2,552.3L1177.9,553.6L1178.7,554.9L1179.4,556.2L1180.1,557.5L1180.9,558.8L1181.6,560.2L1182.4,561.5L1183.1,562.8L1183.9,564.1L1184.6,565.4L1185.3,566.7L1186.1,568.0L1186.8,569.3L1187.6,570.6L1188.3,571.9L1189.0,573.2L1189.8,574.5L1190.5,575.8L1191.3,577.1L1192.0,578.4L1192.7,579.7L1193.5,581.0L1194.2,582.3L1195.0,583.6L1195.7,584.9L1196.4,586.2L1197.2,587.5L1197.9,588.8L1198.7,590.1L1199.4,591.5L1200.1,592.8L1200.9,594.1L1201.6,595.4L1202.3,596.7L1203.1,598.0L1203.8,599.3L1204.6,600.6L1205.3,601.9L1206.0,603.2L1206.8,604.5L1207.5,605.8L1208.3,607.1L1209.0,608.4L1209.7,609.7L1210.5,611.0L1211.2,612.3L1211.9,613.6L1212.7,614.9L1213.4,616.3L1214.2,617.6L1214.9,618.9L1215.6,620.2L1216.4,621.5L1217.1,622.8L1217.9,624.1L1218.6,625.4L1219.3,626.7L1220.1,628.0L1220.8,629.3L1221.5,630.6L1222.3,631.9L1223.0,633.2L1223.8,634.5L1224.5,635.8L1225.2,637.1L1226.0,638.4L1226.7,639.7L1227.5,641.0L1228.2,642.4L1228.9,643.7L1229.7,645.0L1230.4,646.3L1231.2,647.6L1231.9,648.9L1232.6,650.2L1233.4,651.5L1234.1,652.8L1234.9,654.1L1235.6,655.4L1236.3,656.7L1237.1,658.0L1237.8,659.3L1238.6,660.6L1239.3,661.9L1240.1,663.2L1240.8,664.5L1241.5,665.8L1242.3,667.1L1243.0,668.4L1243.8,669.7L1244.5,671.0L1245.2,672.3L1246.0,673.6L1246.7,674.9L1247.5,676.2L1248.2,677.5L1249.0,678.8L1249.7,680.1L1250.5,681.4L1251.2,682.7L1251.9,684.1L1252.7,685.4L1253.4,686.7L1254.2,688.0L1254.9,689.3L1255.7,690.6L1256.4,691.9L1257.2,693.2L1257.9,694.5L1258.7,695.8L1259.4,697.1L1260.2,698.4L1260.9,699.7L1261.7,701.0L1262.4,702.3L1263.2,703.5L1263.9,704.8L1264.7,706.1L1265.4,707.4L1266.2,708.7L1266.9,710.0L1267.7,711.3L1268.4,712.6L1269.2,713.9L1269.9,715.2L1270.7,716.5L1271.4,717.8L1272.2,719.1L1272.9,720.4L1273.7,721.7L1274.5,723.0L1275.2,724.3L1276.0,725.6L1276.7,726.9L1277.5,728.2L1278.2,729.5L1279.0,730.8L1279.8,732.1L1280.5,733.4L1281.3,734.7L1282.0,735.9L1282.8,737.2L1283.6,738.5L1284.3,739.8L1285.1,741.1L1285.8,742.4L1286.6,743.7L1287.4,745.0L1288.1,746.3L1288.9,747.6L1289.7,748.9L1290.4,750.2L1291.2,751.4L1292.0,752.7L1292.7,754.0L1293.5,755.3L1294.3,756.6L1295.0,757.9L1295.8,759.2L1296.6,760.4L1297.4,761.7L1298.1,763.0L1298.9,764.3L1299.7,765.6L1300.5,766.9L1301.2,768.1L1302.0,769.4L1302.8,770.7L1303.6,772.0L1304.4,773.3L1305.2,774.5L1306.0,775.8L1306.8,777.1L1307.5,778.3L1308.3,779.6L1309.1,780.9L1309.9,782.2L1310.7,783.4L1311.5,784.7L1312.3,786.0L1313.2,787.2L1314.0,788.5L1314.8,789.7L1315.6,791.0L1316.4,792.3L1317.2,793.5L1318.0,794.8L1318.9,796.0L1319.7,797.3L1320.5,798.5L1321.3,799.8L1322.2,801.0L1323.0,802.3L1323.9,803.5L1324.7,804.8L1325.5,806.0L1326.4,807.2L1327.2,808.5L1328.1,809.7L1328.9,810.9L1329.8,812.2L1330.7,813.4L1331.5,814.6L1332.4,815.8L1333.3,817.1L1334.1,818.3L1335.0,819.5L1335.9,820.7L1336.8,821.9L1337.7,823.1L1338.5,824.3L1339.4,825.6L1340.3,826.8L1341.2,828.0L1342.1,829.2L1343.0,830.3L1344.0,831.5L1344.9,832.7L1345.8,833.9L1346.7,835.1L1347.6,836.3L1348.6,837.4L1349.5,838.6L1350.5,839.7L1351.5,840.8L1352.6,841.9L1353.7,842.9L1354.9,843.8L1356.1,844.7L1357.4,845.4L1358.8,846.0L1360.2,846.4L1361.7,846.8L1363.2,847.0L1364.7,847.1L1366.2,847.2L1367.7,847.3L1369.2,847.3L1370.7,847.4L1372.2,847.4L1373.7,847.5L1375.2,847.5L1376.7,847.5L1378.2,847.5L1379.7,847.5L1381.2,847.5L1382.7,847.4L1384.2,847.4L1385.7,847.4L1387.2,847.3L1388.7,847.3L1390.2,847.2L1391.7,847.2L1393.2,847.1L1394.7,847.1L1396.2,847.0L1397.7,846.9L1399.2,846.9L1400.7,846.8L1402.1,846.7L1403.6,846.7L1405.1,846.6L1406.6,846.5L1408.1,846.5L1409.6,846.4L1411.1,846.4L1412.6,846.3L1414.1,846.3L1415.6,846.2L1417.1,846.2L1418.6,846.1L1420.1,846.1L1421.6,846.1L1423.1,846.1L1424.6,846.0L1426.1,846.0L1427.6,846.0L1429.1,846.0L1430.6,846.0L1432.1,846.0L1433.6,846.0L1435.1,846.0L1436.6,846.0L1438.1,846.0L1439.6,846.0L1441.1,846.0L1442.6,846.0L1444.1,846.0L1445.6,846.0L1447.1,846.0L1448.6,846.0L1450.1,846.0L1451.6,846.0L1453.1,846.0L1454.6,846.0L1456.1,846.0L1457.6,846.0L1459.1,846.0L1460.6,846.0L1462.1,846.0L1463.6,846.0L1465.1,846.0L1466.6,846.0L1468.1,846.0L1469.6,846.0L1471.1,846.1L1472.6,846.1L1474.1,846.1L1475.6,846.1L1477.1,846.1L1478.6,846.1L1480.1,846.1L1481.6,846.1L1483.1,846.1L1484.6,846.1L1486.1,846.1L1487.6,846.1L1489.1,846.1L1490.6,846.1L1492.1,846.1L1493.6,846.1L1495.1,846.1L1496.6,846.1L1498.1,846.1L1499.6,846.1L1501.1,846.1L1502.6,846.1L1504.1,846.1L1505.6,846.1L1507.1,846.1L1508.6,846.1L1510.1,846.1L1511.6,846.1L1513.1,846.1L1514.6,846.1L1516.1,846.0L1517.6,846.0L1519.1,846.0L1520.6,846.0L1522.1,846.0L1523.6,846.0L1525.1,846.0L1526.6,846.0L1528.1,846.0L1529.6,846.0L1531.1,846.0L1532.6,846.0L1534.1,846.0L1535.6,846.0L1537.1,846.0L1538.6,846.0L1540.1,846.0L1541.6,846.0L1543.1,846.0L1544.6,846.0L1546.1,846.0L1547.6,846.0L1549.1,846.0L1550.6,846.0L1552.1,846.0L1553.6,846.0L1555.1,846.0L1556.6,846.0L1558.1,846.0L1559.6,846.0L1561.1,846.0L1562.6,846.0L1564.1,846.0L1565.6,846.0L1567.1,846.0L1568.6,846.0L1570.1,846.0L1571.6,846.0L1573.1,846.0L1574.6,846.0L1576.1,846.0L1577.6,846.0L1579.1,846.0L1580.6,846.0L1582.1,846.0L1583.6,846.0L1585.1,846.0L1586.6,846.0L1588.1,846.0L1589.6,846.0L1591.1,846.0L1592.6,846.0L1594.1,846.0L1595.6,846.0L1597.1,846.0L1598.6,846.0L1600.1,846.0L1601.6,846.0L1603.1,846.0L1604.6,846.0L1606.1,846.0L1607.6,846.0L1609.1,846.0L1610.6,846.0L1612.1,846.0L1613.6,846.0L1615.1,846.0L1616.6,846.0L1618.1,846.0L1619.6,846.0L1621.1,846.0L1622.6,846.0L1624.1,846.0L1625.6,846.0L1627.1,846.0L1628.6,846.0L1630.1,846.0L1631.6,846.0L1633.1,846.0L1634.6,846.0L1636.1,846.0L1637.6,846.0L1639.1,846.0L1640.6,846.0L1642.1,846.0L1643.6,846.0L1645.1,846.0L1646.6,846.0L1648.1,846.0L1649.6,846.0L1651.1,846.0L1652.6,846.0L1654.1,846.0L1655.6,846.0L1657.1,846.0L1658.6,846.0L1660.1,846.0L1661.6,846.0L1663.1,846.0L1664.6,846.0L1666.1,846.0L1667.6,846.0L1669.1,846.0L1670.6,846.0L1672.1,846.0L1673.6,846.0L1675.1,846.0L1676.6,846.0L1678.1,846.0L1679.6,846.0L1681.1,846.0L1682.6,846.0L1684.1,846.0L1685.6,846.0L1687.1,846.0L1688.6,846.0L1690.1,846.0L1691.6,846.0L1693.1,846.0L1694.6,846.0L1696.1,846.0L1697.6,846.0L1699.1,846.0L1700.6,846.0L1702.1,846.0L1703.6,846.0L1705.1,846.0L1706.6,846.0L1708.1,846.0L1709.6,846.0L1711.1,846.0L1712.6,846.0L1714.1,846.0L1715.6,846.0L1717.1,846.0L1718.6,846.0L1720.1,846.0L1721.6,846.0L1723.1,846.0L1724.6,846.0L1726.1,846.0L1727.6,846.0L1729.1,846.0L1730.6,846.0L1732.1,846.0L1733.6,846.0L1735.1,846.0L1736.6,846.0L1738.1,846.0L1739.6,846.0L1741.1,846.0L1742.6,846.0L1744.1,846.0L1745.6,846.0L1747.1,846.0L1748.6,846.0L1750.1,846.0L1751.6,846.0L1753.0,846.0L1754.5,846.0L1756.0,846.0L1757.5,846.0L1759.0,846.0L1760.5,846.0L1762.0,846.0L1763.5,846.0L1765.0,846.0L1766.5,846.0L1768.0,846.0L1769.5,846.0L1771.0,846.0L1772.5,846.0L1774.0,846.0L1775.5,846.0L1777.0,846.0L1778.5,846.0L1780.0,846.0L1781.5,846.0L1783.0,846.0L1784.5,846.0L1786.0,846.0L1787.5,846.0L1789.0,846.0L1790.5,846.0L1792.0,846.0L1793.5,846.0L1795.0,846.0L1796.5,846.0L1798.0,846.0L1799.5,846.0L1801.0,846.0L1802.5,846.0L1804.0,846.0L1805.5,846.0L1807.0,846.0L1808.5,846.0L1810.0,846.0L1811.5,846.0L1813.0,846.0L1814.5,846.0L1816.0,846.0L1817.5,846.0L1819.0,846.0L1820.5,846.0L1822.0,846.0L1823.5,846.0L1825.0,846.0L1826.5,846.0L1828.0,846.0L1829.5,846.0L1831.0,846.0L1832.5,846.0L1834.0,846.0L1835.5,846.0L1837.0,846.0L1838.5,846.0L1840.0,846.0L1841.5,846.0L1843.0,846.0L1844.5,846.0L1846.0,846.0L1847.5,846.0L1849.0,846.0L1850.5,846.0L1852.0,846.0L1853.5,846.0L1855.0,846.0L1856.5,846.0L1858.0,846.0L1859.5,846.0L1861.0,846.0L1862.5,846.0L1864.0,846.0L1865.5,846.0L1867.0,846.0L1868.5,846.0L1870.0,846.0L1871.5,846.0L1873.0,846.0L1874.5,846.0L1876.0,846.0L1877.5,846.0L1879.0,846.0L1880.5,846.0L1882.0,846.0L1883.5,846.0L1885.0,846.0L1886.5,846.0L1888.0,846.0L1889.5,846.0L1891.0,846.0L1892.5,846.0L1894.0,846.0L1895.5,846.0L1897.0,846.0L1898.5,846.0L1900.0,846.0L1901.5,846.0L1903.0,846.0L1904.5,846.0L1906.0,846.0L1907.5,846.0L1909.0,846.0L1910.5,846.0L1912.0,846.0L1913.5,846.0" fill="none" stroke="#000000" stroke-width="14.0" stroke-linejoin="round" shape-rendering="crispEdges"/>
<path d="M294.0,180.7L295.5,180.9L297.0,181.1L298.5,181.3L300.0,181.5L301.5,181.7L302.9,181.9L304.4,182.1L305.9,182.3L307.4,182.5L308.9,182.7L310.4,182.9L311.9,183.2L313.3,183.4L314.8,183.6L316.3,183.8L317.8,184.0L319.3,184.2L320.8,184.4L322.2,184.6L323.7,184.8L325.2,185.0L326.7,185.3L328.2,185.5L329.7,185.7L331.1,185.9L332.6,186.1L334.1,186.3L335.6,186.5L337.1,186.8L338.6,187.0L340.0,187.2L341.5,187.4L343.0,187.6L344.5,187.9L346.0,188.1L347.5,188.3L348.9,188.5L350.4,188.7L351.9,189.0L353.4,189.2L354.9,189.4L356.4,189.6L357.8,189.8L359.3,190.1L360.8,190.3L362.3,190.5L363.8,190.7L365.2,191.0L366.7,191.2L368.2,191.4L369.7,191.6L371.2,191.9L372.7,192.1L374.1,192.3L375.6,192.5L377.1,192.7L378.6,193.0L380.1,193.2L381.5,193.4L383.0,193.6L384.5,193.9L386.0,194.1L387.5,194.3L389.0,194.5L390.4,194.8L391.9,195.0L393.4,195.2L394.9,195.4L396.4,195.7L397.9,195.9L399.3,196.1L400.8,196.3L402.3,196.6L403.8,196.8L405.3,197.0L406.7,197.2L408.2,197.5L409.7,197.7L411.2,197.9L412.7,198.1L414.2,198.3L415.6,198.6L417.1,198.8L418.6,199.0L420.1,199.2L421.6,199.4L423.1,199.7L424.5,199.9L426.0,200.1L427.5,200.3L429.0,200.5L430.5,200.7L432.0,201.0L433.4,201.2L434.9,201.4L436.4,201.6L437.9,201.8L439.4,202.0L440.9,202.2L442.3,202.4L443.8,202.7L445.3,202.9L446.8,203.1L448.3,203.3L449.8,203.5L451.2,203.7L452.7,203.9L454.2,204.1L455.7,204.3L457.2,204.5L458.7,204.7L460.2,204.9L461.6,205.1L463.1,205.3L464.6,205.5L466.1,205.7L467.6,205.9L469.1,206.1L470.6,206.3L472.0,206.5L473.5,206.7L475.0,206.9L476.5,207.1L478.0,207.3L479.5,207.5L481.0,207.7L482.4,207.9L483.9,208.0L485.4,208.2L486.9,208.4L488.4,208.6L489.9,208.8L491.4,209.0L492.9,209.1L494.3,209.3L495.8,209.5L497.3,209.7L498.8,209.8L500.3,210.0L501.8,210.2L503.3,210.4L504.8,210.5L506.3,210.7L507.7,210.9L509.2,211.0L510.7,211.2L512.2,211.3L513.7,211.5L515.2,211.7L516.7,211.8L518.2,212.0L519.7,212.1L521.2,212.3L522.7,212.4L524.1,212.6L525.6,212.7L527.1,212.9L528.6,213.0L530.1,213.2L531.6,213.3L533.1,213.5L534.6,213.6L536.1,213.7L537.6,213.9L539.1,214.0L540.6,214.1L542.1,214.3L543.5,214.4L545.0,214.5L546.5,214.7L548.0,214.8L549.5,214.9L551.0,215.0L552.5,215.2L554.0,215.3L555.5,215.4L557.0,215.5L558.5,215.6L560.0,215.8L561.5,215.9L563.0,216.0L564.5,216.1L566.0,216.2L567.5,216.3L568.9,216.4L570.4,216.5L571.9,216.6L573.4,216.7L574.9,216.9L576.4,217.0L577.9,217.1L579.4,217.2L580.9,217.3L582.4,217.4L583.9,217.5L585.4,217.6L586.9,217.7L588.4,217.8L589.9,217.9L591.4,218.0L592.9,218.1L594.4,218.2L595.9,218.2L597.4,218.3L598.9,218.4L600.4,218.5L601.9,218.6L603.3,218.7L604.8,218.8L606.3,218.9L607.8,219.0L609.3,219.1L610.8,219.2L612.3,219.2L613.8,219.3L615.3,219.4L616.8,219.5L618.3,219.6L619.8,219.7L621.3,219.8L622.8,219.8L624.3,219.9L625.8,220.0L627.3,220.1L628.8,220.2L630.3,220.3L631.8,220.3L633.3,220.4L634.8,220.5L636.3,220.6L637.8,220.7L639.3,220.7L640.8,220.8L642.3,220.9L643.8,221.0L645.3,221.1L646.7,221.1L648.2,221.2L649.7,221.3L651.2,221.3L652.7,221.4L654.2,221.5L655.7,221.6L657.2,221.6L658.7,221.7L660.2,221.8L661.7,221.8L663.2,221.9L664.7,222.0L666.2,222.0L667.7,222.1L669.2,222.2L670.7,222.2L672.2,222.3L673.7,222.4L675.2,222.4L676.7,222.5L678.2,222.5L679.7,222.6L681.2,222.7L682.7,222.7L684.2,222.8L685.7,222.8L687.2,222.9L688.7,222.9L690.2,223.0L691.7,223.0L693.2,223.1L694.7,223.1L696.2,223.2L697.7,223.2L699.2,223.3L700.7,223.3L702.2,223.4L703.7,223.4L705.2,223.5L706.7,223.5L708.2,223.6L709.7,223.6L711.2,223.6L712.6,223.7L714.1,223.7L715.6,223.8L717.1,223.8L718.6,223.8L720.1,223.9L721.6,223.9L723.1,223.9L724.6,224.0L726.1,224.0L727.6,224.0L729.1,224.0L730.6,224.1L732.1,224.1L733.6,224.1L735.1,224.1L736.6,224.2L738.1,224.2L739.6,224.2L741.1,224.2L742.6,224.2L744.1,224.3L745.6,224.3L747.1,224.3L748.6,224.3L750.1,224.3L751.6,224.3L753.1,224.3L754.6,224.3L756.1,224.4L757.6,224.4L759.1,224.4L760.6,224.4L762.1,224.4L763.6,224.4L765.1,224.4L766.6,224.4L768.1,224.4L769.6,224.4L771.1,224.4L772.6,224.4L774.1,224.3L775.6,224.3L777.1,224.3L778.6,224.3L780.1,224.3L781.6,224.3L783.1,224.3L784.6,224.3L786.1,224.2L787.6,224.2L789.1,224.2L790.6,224.2L792.1,224.2L793.6,224.1L795.1,224.1L796.6,224.1L798.1,224.1L799.6,224.1L801.1,224.0L802.6,224.0L804.1,224.0L805.6,224.0L807.1,223.9L808.6,223.9L810.1,223.9L811.6,223.9L813.1,223.9L814.6,223.8L816.1,223.8L817.6,223.8L819.1,223.8L820.6,223.8L822.1,223.8L823.6,223.7L825.1,223.7L826.6,223.7L828.1,223.7L829.6,223.7L831.1,223.7L832.6,223.7L834.1,223.7L835.5,223.8L837.0,223.8L838.5,223.8L840.0,223.8L841.5,223.9L843.0,223.9L844.5,224.0L846.0,224.0L847.5,224.1L849.0,224.1L850.5,224.2L852.0,224.3L853.5,224.4L855.0,224.5L856.5,224.6L858.0,224.7L859.5,224.9L861.0,225.0L862.5,225.2L864.0,225.3L865.5,225.5L866.9,225.7L868.4,225.9L869.9,226.1L871.4,226.3L872.9,226.5L874.4,226.8L875.8,227.1L877.3,227.3L878.8,227.6L880.2,227.9L881.7,228.2L883.2,228.6L884.6,228.9L886.1,229.3L887.5,229.7L889.0,230.0L890.4,230.4L891.9,230.9L893.3,231.3L894.7,231.7L896.2,232.2L897.6,232.7L899.0,233.1L900.4,233.6L901.8,234.1L903.2,234.7L904.6,235.2L906.0,235.7L907.4,236.3L908.8,236.9L910.2,237.5L911.6,238.1L912.9,238.7L914.3,239.3L915.6,239.9L917.0,240.6L918.3,241.3L919.7,241.9L921.0,242.6L922.3,243.3L923.6,244.1L925.0,244.8L926.3,245.5L927.6,246.3L928.8,247.0L930.1,247.8L931.4,248.6L932.7,249.4L933.9,250.2L935.2,251.1L936.4,251.9L937.6,252.8L938.9,253.6L940.1,254.5L941.3,255.4L942.5,256.3L943.7,257.2L944.9,258.1L946.1,259.0L947.3,259.9L948.4,260.9L949.6,261.8L950.7,262.8L951.9,263.7L953.0,264.7L954.2,265.7L955.3,266.6L956.4,267.6L957.6,268.6L958.7,269.6L959.8,270.6L960.9,271.6L962.0,272.6L963.1,273.6L964.2,274.7L965.3,275.7L966.4,276.7L967.5,277.7L968.6,278.8L969.7,279.8L970.8,280.8L971.9,281.9L972.9,282.9L974.0,283.9L975.1,285.0L976.2,286.0L977.2,287.1L978.3,288.1L979.4,289.2L980.5,290.2L981.5,291.3L982.6,292.3L983.7,293.4L984.7,294.4L985.8,295.5L986.8,296.6L987.9,297.6L988.9,298.7L990.0,299.8L991.1,300.8L992.1,301.9L993.2,303.0L994.2,304.0L995.2,305.1L996.3,306.2L997.3,307.3L998.4,308.3L999.4,309.4L1000.5,310.5L1001.5,311.6L1002.5,312.7L1003.6,313.7L1004.6,314.8L1005.6,315.9L1006.7,317.0L1007.7,318.1L1008.7,319.2L1009.7,320.3L1010.8,321.4L1011.8,322.5L1012.8,323.6L1013.8,324.6L1014.9,325.7L1015.9,326.8L1016.9,327.9L1017.9,329.0L1018.9,330.1L1020.0,331.2L1021.0,332.3L1022.0,333.4L1023.0,334.5L1024.0,335.7L1025.0,336.8L1026.1,337.9L1027.1,339.0L1028.1,340.1L1029.1,341.2L1030.1,342.3L1031.1,343.4L1032.1,344.5L1033.1,345.6L1034.1,346.7L1035.1,347.8L1036.1,349.0L1037.1,350.1L1038.1,351.2L1039.1,352.3L1040.1,353.4L1041.2,354.5L1042.2,355.6L1043.2,356.7L1044.2,357.9L1045.2,359.0L1046.2,360.1L1047.2,361.2L1048.2,362.3L1049.2,363.4L1050.2,364.6L1051.2,365.7L1052.2,366.8L1053.2,367.9L1054.2,369.0L1055.2,370.1L1056.2,371.3L1057.2,372.4L1058.1,373.5L1059.1,374.6L1060.1,375.7L1061.1,376.9L1062.1,378.0L1063.1,379.1L1064.1,380.2L1065.1,381.3L1066.1,382.4L1067.1,383.6L1068.1,384.7L1069.1,385.8L1070.1,386.9L1071.1,388.0L1072.1,389.1L1073.1,390.3L1074.1,391.4L1075.1,392.5L1076.1,393.6L1077.1,394.7L1078.1,395.8L1079.1,397.0L1080.2,398.1L1081.2,399.2L1082.2,400.3L1083.2,401.4L1084.2,402.5L1085.2,403.6L1086.2,404.7L1087.2,405.9L1088.2,407.0L1089.2,408.1L1090.2,409.2L1091.2,410.3L1092.2,411.4L1093.2,412.5L1094.2,413.6L1095.2,414.7L1096.2,415.8L1097.3,417.0L1098.3,418.1L1099.3,419.2L1100.3,420.3L1101.3,421.4L1102.3,422.5L1103.3,423.6L1104.3,424.7L1105.3,425.9L1106.3,427.0L1107.3,428.1L1108.3,429.2L1109.3,430.3L1110.3,431.4L1111.3,432.6L1112.3,433.7L1113.3,434.8L1114.3,435.9L1115.3,437.1L1116.2,438.2L1117.2,439.3L1118.2,440.4L1119.2,441.6L1120.2,442.7L1121.2,443.8L1122.2,445.0L1123.1,446.1L1124.1,447.2L1125.1,448.4L1126.1,449.5L1127.0,450.7L1128.0,451.8L1129.0,452.9L1129.9,454.1L1130.9,455.2L1131.9,456.4L1132.8,457.5L1133.8,458.7L1134.7,459.9L1135.7,461.0L1136.6,462.2L1137.6,463.3L1138.5,464.5L1139.4,465.7L1140.4,466.8L1141.3,468.0L1142.2,469.2L1143.2,470.4L1144.1,471.5L1145.0,472.7L1145.9,473.9L1146.9,475.1L1147.8,476.3L1148.7,477.5L1149.6,478.7L1150.5,479.9L1151.4,481.1L1152.3,482.3L1153.1,483.5L1154.0,484.7L1154.9,485.9L1155.8,487.1L1156.7,488.3L1157.5,489.6L1158.4,490.8L1159.3,492.0L1160.1,493.3L1161.0,494.5L1161.8,495.7L1162.6,497.0L1163.5,498.2L1164.3,499.5L1165.1,500.7L1166.0,502.0L1166.8,503.2L1167.6,504.5L1168.4,505.8L1169.2,507.0L1170.0,508.3L1170.8,509.6L1171.5,510.8L1172.3,512.1L1173.1,513.4L1173.9,514.7L1174.6,516.0L1175.4,517.3L1176.1,518.6L1176.9,519.9L1177.6,521.2L1178.3,522.5L1179.0,523.8L1179.8,525.1L1180.5,526.5L1181.2,527.8L1181.9,529.1L1182.6,530.4L1183.2,531.8L1183.9,533.1L1184.6,534.4L1185.3,535.8L1185.9,537.1L1186.6,538.5L1187.2,539.8L1187.9,541.2L1188.5,542.5L1189.1,543.9L1189.8,545.3L1190.4,546.6L1191.0,548.0L1191.6,549.4L1192.2,550.7L1192.8,552.1L1193.4,553.5L1194.0,554.9L1194.6,556.3L1195.1,557.6L1195.7,559.0L1196.3,560.4L1196.8,561.8L1197.4,563.2L1197.9,564.6L1198.5,566.0L1199.0,567.4L1199.5,568.8L1200.1,570.2L1200.6,571.6L1201.1,573.0L1201.6,574.4L1202.1,575.8L1202.6,577.2L1203.1,578.7L1203.6,580.1L1204.1,581.5L1204.6,582.9L1205.0,584.3L1205.5,585.8L1206.0,587.2L1206.4,588.6L1206.9,590.0L1207.3,591.5L1207.8,592.9L1208.2,594.3L1208.7,595.8L1209.1,597.2L1209.5,598.6L1209.9,600.1L1210.4,601.5L1210.8,603.0L1211.2,604.4L1211.6,605.8L1212.0,607.3L1212.4,608.7L1212.8,610.2L1213.2,611.6L1213.6,613.1L1214.0,614.5L1214.4,616.0L1214.8,617.4L1215.2,618.8L1215.6,620.3L1216.0,621.7L1216.4,623.2L1216.8,624.6L1217.3,626.0L1217.7,627.5L1218.1,628.9L1218.6,630.4L1219.0,631.8L1219.5,633.2L1219.9,634.6L1220.4,636.1L1220.9,637.5L1221.3,638.9L1221.8,640.3L1222.3,641.7L1222.9,643.1L1223.4,644.5L1223.9,645.9L1224.5,647.3L1225.0,648.7L1225.6,650.1L1226.2,651.5L1226.7,652.9L1227.3,654.3L1227.9,655.6L1228.5,657.0L1229.1,658.4L1229.7,659.8L1230.4,661.1L1231.0,662.5L1231.6,663.8L1232.3,665.2L1232.9,666.5L1233.6,667.9L1234.2,669.2L1234.9,670.6L1235.5,671.9L1236.2,673.3L1236.9,674.6L1237.6,675.9L1238.2,677.3L1238.9,678.6L1239.6,680.0L1240.3,681.3L1241.0,682.6L1241.7,683.9L1242.4,685.3L1243.1,686.6L1243.8,687.9L1244.5,689.3L1245.2,690.6L1245.9,691.9L1246.6,693.2L1247.3,694.6L1248.0,695.9L1248.7,697.2L1249.4,698.5L1250.1,699.9L1250.8,701.2L1251.4,702.5L1252.1,703.8L1252.8,705.2L1253.5,706.5L1254.2,707.8L1254.9,709.2L1255.6,710.5L1256.3,711.8L1256.9,713.2L1257.6,714.5L1258.3,715.9L1259.0,717.2L1259.6,718.5L1260.3,719.9L1260.9,721.2L1261.6,722.6L1262.2,723.9L1262.9,725.3L1263.5,726.6L1264.2,728.0L1264.9,729.3L1265.6,730.6L1266.3,731.9L1267.0,733.3L1267.8,734.5L1268.6,735.8L1269.4,737.1L1270.2,738.3L1271.1,739.5L1272.1,740.7L1273.0,741.9L1274.0,743.0L1275.1,744.0L1276.2,745.0L1277.3,746.0L1278.6,746.9L1279.8,747.7L1281.1,748.5L1282.4,749.1L1283.8,749.7L1285.2,750.3L1286.6,750.8L1288.1,751.2L1289.5,751.7L1290.9,752.1L1292.4,752.5L1293.8,753.0L1295.2,753.5L1296.6,754.0L1298.0,754.5L1299.4,755.0L1300.8,755.6L1302.2,756.2L1303.6,756.8L1304.9,757.4L1306.3,758.1L1307.6,758.8L1308.9,759.5L1310.2,760.3L1311.4,761.1L1312.7,762.0L1313.9,762.9L1315.0,763.8L1316.2,764.8L1317.3,765.8L1318.3,766.8L1319.4,767.9L1320.4,769.0L1321.4,770.2L1322.3,771.3L1323.2,772.5L1324.1,773.7L1325.0,774.9L1325.9,776.1L1326.7,777.4L1327.6,778.6L1328.4,779.9L1329.2,781.2L1330.0,782.4L1330.8,783.7L1331.5,785.0L1332.3,786.3L1333.1,787.6L1333.9,788.8L1334.7,790.1L1335.4,791.4L1336.2,792.7L1337.0,793.9L1337.8,795.2L1338.7,796.4L1339.5,797.7L1340.4,798.9L1341.2,800.2L1342.1,801.4L1342.9,802.6L1343.8,803.8L1344.7,805.0L1345.6,806.2L1346.5,807.4L1347.4,808.6L1348.3,809.8L1349.2,811.0L1350.1,812.2L1351.0,813.4L1351.9,814.6L1352.8,815.8L1353.7,817.0L1354.6,818.2L1355.5,819.4L1356.4,820.6L1357.3,821.8L1358.2,823.0L1359.1,824.2L1360.0,825.4L1360.9,826.6L1361.7,827.9L1362.6,829.1L1363.5,830.3L1364.3,831.5L1365.2,832.7L1366.1,833.9L1367.0,835.1L1367.9,836.3L1368.9,837.5L1369.8,838.7L1370.8,839.8L1371.8,840.9L1372.8,842.0L1373.9,843.1L1374.9,844.1L1376.1,845.1L1377.2,846.1L1378.4,847.0L1379.6,847.8L1380.9,848.6L1382.2,849.3L1383.6,850.0L1384.9,850.6L1386.3,851.1L1387.7,851.6L1389.2,852.1L1390.6,852.5L1392.1,852.8L1393.5,853.2L1395.0,853.5L1396.5,853.7L1398.0,854.0L1399.4,854.2L1400.9,854.5L1402.4,854.6L1403.9,854.8L1405.4,855.0L1406.9,855.1L1408.4,855.2L1409.9,855.3L1411.4,855.4L1412.9,855.5L1414.4,855.6L1415.9,855.6L1417.4,855.7L1418.9,855.7L1420.4,855.7L1421.9,855.8L1423.4,855.8L1424.9,855.8L1426.4,855.8L1427.8,855.8L1429.3,855.8L1430.8,855.8L1432.3,855.8L1433.8,855.8L1435.3,855.9L1436.8,855.9L1438.3,855.9L1439.8,855.9L1441.3,855.9L1442.8,855.9L1444.3,855.9L1445.8,855.9L1447.3,855.9L1448.8,855.9L1450.3,855.9L1451.8,855.9L1453.3,855.9L1454.8,856.0L1456.3,856.0L1457.8,856.0L1459.3,856.0L1460.8,856.0L1462.3,856.0L1463.8,856.0L1465.3,856.0L1466.8,856.0L1468.3,856.0L1469.8,856.0L1471.3,856.0L1472.8,856.1L1474.3,856.1L1475.8,856.1L1477.3,856.1L1478.8,856.1L1480.3,856.1L1481.8,856.1L1483.3,856.1L1484.8,856.1L1486.3,856.1L1487.8,856.1L1489.3,856.2L1490.8,856.2L1492.3,856.2L1493.8,856.2L1495.3,856.2L1496.8,856.2L1498.3,856.2L1499.8,856.2L1501.3,856.2L1502.8,856.2L1504.3,856.3L1505.8,856.3L1507.3,856.3L1508.8,856.3L1510.3,856.3L1511.8,856.3L1513.3,856.3L1514.8,856.3L1516.3,856.3L1517.8,856.3L1519.3,856.4L1520.8,856.4L1522.3,856.4L1523.8,856.4L1525.3,856.4L1526.8,856.4L1528.3,856.4L1529.8,856.4L1531.3,856.4L1532.8,856.4L1534.3,856.4L1535.8,856.5L1537.3,856.5L1538.8,856.5L1540.3,856.5L1541.8,856.5L1543.3,856.5L1544.8,856.5L1546.3,856.5L1547.8,856.5L1549.3,856.5L1550.8,856.5L1552.3,856.6L1553.8,856.6L1555.3,856.6L1556.8,856.6L1558.3,856.6L1559.8,856.6L1561.3,856.6L1562.7,856.6L1564.2,856.6L1565.7,856.6L1567.2,856.6L1568.7,856.6L1570.2,856.7L1571.7,856.7L1573.2,856.7L1574.7,856.7L1576.2,856.7L1577.7,856.7L1579.2,856.7L1580.7,856.7L1582.2,856.7L1583.7,856.7L1585.2,856.7L1586.7,856.7L1588.2,856.7L1589.7,856.7L1591.2,856.7L1592.7,856.8L1594.2,856.8L1595.7,856.8L1597.2,856.8L1598.7,856.8L1600.2,856.8L1601.7,856.8L1603.2,856.8L1604.7,856.8L1606.2,856.8L1607.7,856.8L1609.2,856.8L1610.7,856.8L1612.2,856.8L1613.7,856.8L1615.2,856.8L1616.7,856.8L1618.2,856.8L1619.7,856.8L1621.2,856.8L1622.7,856.9L1624.2,856.9L1625.7,856.9L1627.2,856.9L1628.7,856.9L1630.2,856.9L1631.7,856.9L1633.2,856.9L1634.7,856.9L1636.2,856.9L1637.7,856.9L1639.2,856.9L1640.7,856.9L1642.2,856.9L1643.7,856.9L1645.2,856.9L1646.7,856.9L1648.2,856.9L1649.7,856.9L1651.2,856.9L1652.7,856.9L1654.2,856.9L1655.7,856.9L1657.2,856.9L1658.7,856.9L1660.2,856.9L1661.7,856.9L1663.2,856.9L1664.7,856.9L1666.2,856.9L1667.7,856.9L1669.2,856.9L1670.7,856.9L1672.2,856.9L1673.7,856.9L1675.2,856.9L1676.7,857.0L1678.2,857.0L1679.7,857.0L1681.2,857.0L1682.7,857.0L1684.2,857.0L1685.7,857.0L1687.2,857.0L1688.7,857.0L1690.2,857.0L1691.7,857.0L1693.2,857.0L1694.7,857.0L1696.2,857.0L1697.7,857.0L1699.1,857.0L1700.6,857.0L1702.1,857.0L1703.6,857.0L1705.1,857.0L1706.6,857.0L1708.1,857.0L1709.6,857.0L1711.1,857.0L1712.6,857.0L1714.1,857.0L1715.6,857.0L1717.1,857.0L1718.6,857.0L1720.1,857.0L1721.6,857.0L1723.1,857.0L1724.6,857.0L1726.1,857.0L1727.6,857.0L1729.1,857.0L1730.6,857.0L1732.1,857.1L1733.6,857.1L1735.1,857.1L1736.6,857.1L1738.1,857.1L1739.6,857.1L1741.1,857.1L1742.6,857.1L1744.1,857.1L1745.6,857.1L1747.1,857.1L1748.6,857.1L1750.1,857.1L1751.6,857.1L1753.1,857.1L1754.6,857.1L1756.1,857.1L1757.6,857.1L1759.1,857.1L1760.6,857.1L1762.1,857.1L1763.6,857.1L1765.1,857.2L1766.6,857.2L1768.1,857.2L1769.6,857.2L1771.1,857.2L1772.6,857.2L1774.1,857.2L1775.6,857.2L1777.1,857.2L1778.6,857.2L1780.1,857.2L1781.6,857.2L1783.1,857.2L1784.6,857.2L1786.1,857.2L1787.6,857.3L1789.1,857.3L1790.6,857.3L1792.1,857.3L1793.6,857.3L1795.1,857.3L1796.6,857.3L1798.1,857.3L1799.6,857.3L1801.1,857.3L1802.6,857.3L1804.1,857.3L1805.6,857.4L1807.1,857.4L1808.6,857.4L1810.1,857.4L1811.6,857.4L1813.1,857.4L1814.6,857.4L1816.1,857.4L1817.6,857.4L1819.1,857.5L1820.6,857.5L1822.1,857.5L1823.6,857.5L1825.1,857.5L1826.6,857.5L1828.1,857.5L1829.6,857.5L1831.1,857.6L1832.6,857.6L1834.1,857.6L1835.5,857.6L1837.0,857.6L1838.5,857.6L1840.0,857.6L1841.5,857.7L1843.0,857.7L1844.5,857.7L1846.0,857.7L1847.5,857.7L1849.0,857.7L1850.5,857.7L1852.0,857.8L1853.5,857.8L1855.0,857.8L1856.5,857.8L1858.0,857.8L1859.5,857.8L1861.0,857.9L1862.5,857.9L1864.0,857.9L1865.5,857.9L1867.0,857.9L1868.5,858.0L1870.0,858.0L1871.5,858.0L1873.0,858.0L1874.5,858.0L1876.0,858.1L1877.5,858.1L1879.0,858.1L1880.5,858.1L1882.0,858.1L1883.5,858.2L1885.0,858.2L1886.5,858.2L1888.0,858.2L1889.5,858.2L1891.0,858.3L1892.5,858.3L1894.0,858.3L1895.5,858.3L1897.0,858.4L1898.5,858.4L1900.0,858.4L1901.5,858.4L1903.0,858.5L1904.5,858.5L1906.0,858.5L1907.5,858.5L1909.0,858.6L1910.5,858.6L1912.0,858.6L1913.5,858.7" fill="none" stroke="#ff0000" stroke-width="14.0" stroke-linejoin="round" shape-rendering="crispEdges"/>
<path d="M294.0,181.1L295.5,181.1L297.0,181.2L298.5,181.3L300.0,181.3L301.5,181.4L303.0,181.5L304.5,181.5L306.0,181.6L307.5,181.7L309.0,181.8L310.5,181.9L312.0,182.0L313.5,182.1L315.0,182.2L316.5,182.4L318.0,182.5L319.5,182.6L321.0,182.7L322.5,182.9L323.9,183.0L325.4,183.2L326.9,183.3L328.4,183.5L329.9,183.6L331.4,183.8L332.9,183.9L334.4,184.1L335.9,184.3L337.4,184.4L338.9,184.6L340.3,184.8L341.8,185.0L343.3,185.1L344.8,185.3L346.3,185.5L347.8,185.7L349.3,185.9L350.8,186.1L352.2,186.3L353.7,186.5L355.2,186.7L356.7,186.9L358.2,187.1L359.7,187.3L361.1,187.5L362.6,187.7L364.1,187.9L365.6,188.2L367.1,188.4L368.6,188.6L370.0,188.8L371.5,189.0L373.0,189.2L374.5,189.5L376.0,189.7L377.5,189.9L378.9,190.1L380.4,190.4L381.9,190.6L383.4,190.8L384.9,191.0L386.4,191.3L387.8,191.5L389.3,191.7L390.8,191.9L392.3,192.2L393.8,192.4L395.2,192.6L396.7,192.8L398.2,193.1L399.7,193.3L401.2,193.5L402.7,193.7L404.1,193.9L405.6,194.2L407.1,194.4L408.6,194.6L410.1,194.8L411.6,195.0L413.0,195.2L414.5,195.5L416.0,195.7L417.5,195.9L419.0,196.1L420.5,196.3L421.9,196.5L423.4,196.7L424.9,196.9L426.4,197.1L427.9,197.3L429.4,197.5L430.9,197.7L432.3,197.9L433.8,198.1L435.3,198.3L436.8,198.5L438.3,198.7L439.8,198.9L441.3,199.1L442.7,199.3L444.2,199.5L445.7,199.7L447.2,199.8L448.7,200.0L450.2,200.2L451.7,200.4L453.2,200.6L454.6,200.8L456.1,200.9L457.6,201.1L459.1,201.3L460.6,201.5L462.1,201.6L463.6,201.8L465.1,202.0L466.6,202.2L468.0,202.3L469.5,202.5L471.0,202.7L472.5,202.8L474.0,203.0L475.5,203.2L477.0,203.3L478.5,203.5L480.0,203.6L481.5,203.8L482.9,204.0L484.4,204.1L485.9,204.3L487.4,204.4L488.9,204.6L490.4,204.7L491.9,204.9L493.4,205.0L494.9,205.2L496.4,205.3L497.9,205.5L499.4,205.6L500.8,205.8L502.3,205.9L503.8,206.0L505.3,206.2L506.8,206.3L508.3,206.5L509.8,206.6L511.3,206.7L512.8,206.9L514.3,207.0L515.8,207.2L517.3,207.3L518.8,207.4L520.3,207.6L521.7,207.7L523.2,207.8L524.7,207.9L526.2,208.1L527.7,208.2L529.2,208.3L530.7,208.4L532.2,208.6L533.7,208.7L535.2,208.8L536.7,208.9L538.2,209.0L539.7,209.2L541.2,209.3L542.7,209.4L544.2,209.5L545.6,209.6L547.1,209.7L548.6,209.8L550.1,210.0L551.6,210.1L553.1,210.2L554.6,210.3L556.1,210.4L557.6,210.5L559.1,210.6L560.6,210.7L562.1,210.8L563.6,210.9L565.1,211.0L566.6,211.1L568.1,211.2L569.6,211.3L571.1,211.4L572.6,211.5L574.1,211.6L575.6,211.7L577.1,211.8L578.6,211.9L580.0,211.9L581.5,212.0L583.0,212.1L584.5,212.2L586.0,212.3L587.5,212.4L589.0,212.5L590.5,212.5L592.0,212.6L593.5,212.7L595.0,212.8L596.5,212.9L598.0,212.9L599.5,213.0L601.0,213.1L602.5,213.1L604.0,213.2L605.5,213.3L607.0,213.4L608.5,213.4L610.0,213.5L611.5,213.6L613.0,213.6L614.5,213.7L616.0,213.7L617.5,213.8L619.0,213.9L620.5,213.9L622.0,214.0L623.5,214.0L625.0,214.1L626.5,214.1L628.0,214.2L629.5,214.2L631.0,214.3L632.5,214.3L634.0,214.4L635.5,214.4L637.0,214.5L638.4,214.5L639.9,214.6L641.4,214.6L642.9,214.7L644.4,214.7L645.9,214.7L647.4,214.8L648.9,214.8L650.4,214.8L651.9,214.9L653.4,214.9L654.9,214.9L656.4,215.0L657.9,215.0L659.4,215.0L660.9,215.0L662.4,215.1L663.9,215.1L665.4,215.1L666.9,215.1L668.4,215.1L669.9,215.2L671.4,215.2L672.9,215.2L674.4,215.2L675.9,215.2L677.4,215.2L678.9,215.2L680.4,215.2L681.9,215.3L683.4,215.3L684.9,215.3L686.4,215.3L687.9,215.3L689.4,215.3L690.9,215.3L692.4,215.3L693.9,215.3L695.4,215.3L696.9,215.3L698.4,215.2L699.9,215.2L701.4,215.2L702.9,215.2L704.4,215.2L705.9,215.2L707.4,215.2L708.9,215.2L710.4,215.1L711.9,215.1L713.4,215.1L714.9,215.1L716.4,215.1L717.9,215.0L719.4,215.0L720.9,215.0L722.4,215.0L723.9,214.9L725.4,214.9L726.9,214.9L728.4,214.8L729.9,214.8L731.4,214.8L732.9,214.8L734.4,214.7L735.9,214.7L737.4,214.7L738.9,214.6L740.4,214.6L741.9,214.6L743.4,214.6L744.9,214.5L746.4,214.5L747.9,214.5L749.4,214.5L750.9,214.4L752.4,214.4L753.9,214.4L755.4,214.4L756.9,214.3L758.4,214.3L759.9,214.3L761.4,214.3L762.9,214.3L764.4,214.3L765.9,214.3L767.3,214.3L768.8,214.2L770.3,214.2L771.8,214.2L773.3,214.2L774.8,214.2L776.3,214.2L777.8,214.2L779.3,214.3L780.8,214.3L782.3,214.3L783.8,214.3L785.3,214.3L786.8,214.3L788.3,214.4L789.8,214.4L791.3,214.4L792.8,214.5L794.3,214.5L795.8,214.5L797.3,214.6L798.8,214.6L800.3,214.7L801.8,214.7L803.3,214.8L804.8,214.9L806.3,214.9L807.8,215.0L809.3,215.1L810.8,215.2L812.3,215.2L813.8,215.3L815.3,215.4L816.8,215.5L818.3,215.6L819.8,215.7L821.3,215.9L822.8,216.0L824.3,216.1L825.8,216.3L827.2,216.4L828.7,216.6L830.2,216.7L831.7,216.9L833.2,217.1L834.7,217.3L836.2,217.5L837.7,217.7L839.1,218.0L840.6,218.2L842.1,218.4L843.6,218.7L845.0,219.0L846.5,219.3L848.0,219.6L849.4,219.9L850.9,220.2L852.4,220.5L853.8,220.9L855.3,221.2L856.7,221.6L858.2,222.0L859.6,222.4L861.1,222.8L862.5,223.2L863.9,223.7L865.4,224.1L866.8,224.6L868.2,225.0L869.7,225.5L871.1,226.0L872.5,226.5L873.9,227.0L875.3,227.6L876.7,228.1L878.1,228.7L879.5,229.2L880.9,229.8L882.2,230.4L883.6,231.0L885.0,231.6L886.3,232.2L887.7,232.8L889.0,233.5L890.4,234.1L891.7,234.8L893.1,235.5L894.4,236.2L895.7,236.9L897.0,237.6L898.4,238.3L899.7,239.1L901.0,239.8L902.2,240.6L903.5,241.4L904.8,242.1L906.1,242.9L907.3,243.7L908.6,244.6L909.8,245.4L911.1,246.2L912.3,247.1L913.5,248.0L914.8,248.8L916.0,249.7L917.2,250.6L918.4,251.5L919.6,252.4L920.7,253.4L921.9,254.3L923.1,255.2L924.2,256.2L925.4,257.2L926.5,258.1L927.6,259.1L928.8,260.1L929.9,261.1L931.0,262.1L932.1,263.1L933.2,264.2L934.3,265.2L935.3,266.2L936.4,267.3L937.5,268.4L938.5,269.4L939.6,270.5L940.6,271.6L941.7,272.7L942.7,273.7L943.7,274.8L944.7,275.9L945.7,277.1L946.7,278.2L947.7,279.3L948.7,280.4L949.7,281.6L950.6,282.7L951.6,283.8L952.6,285.0L953.5,286.2L954.5,287.3L955.4,288.5L956.4,289.7L957.3,290.8L958.2,292.0L959.1,293.2L960.0,294.4L960.9,295.6L961.8,296.8L962.7,298.0L963.6,299.2L964.5,300.4L965.4,301.6L966.3,302.8L967.1,304.0L968.0,305.3L968.9,306.5L969.7,307.7L970.6,309.0L971.4,310.2L972.3,311.4L973.1,312.7L973.9,313.9L974.8,315.2L975.6,316.4L976.4,317.7L977.2,318.9L978.1,320.2L978.9,321.4L979.7,322.7L980.5,324.0L981.3,325.2L982.1,326.5L982.9,327.8L983.7,329.1L984.5,330.3L985.2,331.6L986.0,332.9L986.8,334.2L987.6,335.4L988.4,336.7L989.1,338.0L989.9,339.3L990.7,340.6L991.4,341.9L992.2,343.2L993.0,344.4L993.7,345.7L994.5,347.0L995.2,348.3L996.0,349.6L996.8,350.9L997.5,352.2L998.3,353.5L999.0,354.8L999.8,356.1L1000.5,357.4L1001.3,358.7L1002.0,360.0L1002.7,361.3L1003.5,362.6L1004.2,363.9L1005.0,365.2L1005.7,366.5L1006.5,367.8L1007.2,369.1L1007.9,370.4L1008.7,371.7L1009.4,373.0L1010.2,374.3L1010.9,375.6L1011.6,376.9L1012.4,378.2L1013.1,379.6L1013.9,380.9L1014.6,382.2L1015.3,383.5L1016.1,384.8L1016.8,386.1L1017.5,387.4L1018.3,388.7L1019.0,390.0L1019.7,391.3L1020.5,392.6L1021.2,393.9L1021.9,395.2L1022.6,396.5L1023.4,397.9L1024.1,399.2L1024.8,400.5L1025.6,401.8L1026.3,403.1L1027.0,404.4L1027.8,405.7L1028.5,407.0L1029.2,408.3L1029.9,409.6L1030.7,411.0L1031.4,412.3L1032.1,413.6L1032.8,414.9L1033.6,416.2L1034.3,417.5L1035.0,418.8L1035.7,420.1L1036.5,421.5L1037.2,422.8L1037.9,424.1L1038.6,425.4L1039.4,426.7L1040.1,428.0L1040.8,429.3L1041.5,430.6L1042.3,432.0L1043.0,433.3L1043.7,434.6L1044.4,435.9L1045.2,437.2L1045.9,438.5L1046.6,439.8L1047.3,441.1L1048.1,442.5L1048.8,443.8L1049.5,445.1L1050.2,446.4L1050.9,447.7L1051.7,449.0L1052.4,450.3L1053.1,451.6L1053.8,453.0L1054.6,454.3L1055.3,455.6L1056.0,456.9L1056.7,458.2L1057.5,459.5L1058.2,460.8L1058.9,462.1L1059.7,463.4L1060.4,464.8L1061.1,466.1L1061.8,467.4L1062.6,468.7L1063.3,470.0L1064.0,471.3L1064.7,472.6L1065.5,473.9L1066.2,475.2L1066.9,476.6L1067.7,477.9L1068.4,479.2L1069.1,480.5L1069.9,481.8L1070.6,483.1L1071.3,484.4L1072.0,485.7L1072.8,487.0L1073.5,488.3L1074.2,489.6L1075.0,490.9L1075.7,492.2L1076.4,493.6L1077.2,494.9L1077.9,496.2L1078.7,497.5L1079.4,498.8L1080.1,500.1L1080.9,501.4L1081.6,502.7L1082.3,504.0L1083.1,505.3L1083.8,506.6L1084.6,507.9L1085.3,509.2L1086.1,510.5L1086.8,511.8L1087.5,513.1L1088.3,514.4L1089.0,515.7L1089.8,517.0L1090.5,518.3L1091.3,519.6L1092.0,520.9L1092.8,522.2L1093.5,523.5L1094.3,524.8L1095.0,526.1L1095.8,527.4L1096.5,528.7L1097.3,530.0L1098.0,531.3L1098.8,532.6L1099.5,533.9L1100.3,535.2L1101.0,536.5L1101.8,537.8L1102.6,539.1L1103.3,540.4L1104.1,541.6L1104.8,542.9L1105.6,544.2L1106.4,545.5L1107.1,546.8L1107.9,548.1L1108.6,549.4L1109.4,550.7L1110.2,552.0L1110.9,553.3L1111.7,554.5L1112.5,555.8L1113.2,557.1L1114.0,558.4L1114.8,559.7L1115.6,561.0L1116.3,562.3L1117.1,563.5L1117.9,564.8L1118.7,566.1L1119.4,567.4L1120.2,568.7L1121.0,570.0L1121.8,571.2L1122.6,572.5L1123.3,573.8L1124.1,575.1L1124.9,576.3L1125.7,577.6L1126.5,578.9L1127.3,580.2L1128.1,581.4L1128.8,582.7L1129.6,584.0L1130.4,585.3L1131.2,586.5L1132.0,587.8L1132.8,589.1L1133.6,590.3L1134.4,591.6L1135.2,592.9L1136.0,594.2L1136.8,595.4L1137.6,596.7L1138.4,598.0L1139.2,599.2L1140.0,600.5L1140.8,601.7L1141.6,603.0L1142.5,604.3L1143.3,605.5L1144.1,606.8L1144.9,608.0L1145.7,609.3L1146.5,610.6L1147.3,611.8L1148.2,613.1L1149.0,614.3L1149.8,615.6L1150.6,616.8L1151.4,618.1L1152.3,619.3L1153.1,620.6L1153.9,621.8L1154.8,623.1L1155.6,624.3L1156.4,625.6L1157.2,626.8L1158.1,628.1L1158.9,629.3L1159.7,630.6L1160.6,631.8L1161.4,633.1L1162.2,634.3L1163.1,635.6L1163.9,636.8L1164.8,638.0L1165.6,639.3L1166.4,640.5L1167.3,641.8L1168.1,643.0L1169.0,644.2L1169.8,645.5L1170.7,646.7L1171.5,647.9L1172.4,649.2L1173.2,650.4L1174.1,651.7L1174.9,652.9L1175.8,654.1L1176.6,655.4L1177.5,656.6L1178.3,657.8L1179.2,659.0L1180.0,660.3L1180.9,661.5L1181.8,662.7L1182.6,664.0L1183.5,665.2L1184.3,666.4L1185.2,667.7L1186.0,668.9L1186.9,670.1L1187.8,671.3L1188.6,672.6L1189.5,673.8L1190.4,675.0L1191.2,676.2L1192.1,677.5L1193.0,678.7L1193.8,679.9L1194.7,681.1L1195.6,682.3L1196.4,683.6L1197.3,684.8L1198.2,686.0L1199.0,687.2L1199.9,688.4L1200.8,689.7L1201.7,690.9L1202.6,692.1L1203.4,693.3L1204.3,694.5L1205.2,695.7L1206.1,696.9L1207.0,698.1L1207.9,699.3L1208.8,700.5L1209.7,701.7L1210.6,702.9L1211.6,704.1L1212.5,705.2L1213.4,706.4L1214.3,707.6L1215.3,708.8L1216.2,709.9L1217.2,711.1L1218.1,712.3L1219.1,713.4L1220.1,714.6L1221.0,715.7L1222.0,716.8L1223.0,718.0L1224.0,719.1L1225.0,720.2L1226.0,721.3L1227.0,722.4L1228.0,723.5L1229.0,724.6L1230.1,725.7L1231.1,726.8L1232.2,727.8L1233.2,728.9L1234.3,730.0L1235.4,731.0L1236.4,732.1L1237.5,733.1L1238.6,734.1L1239.7,735.1L1240.8,736.1L1241.9,737.1L1243.1,738.1L1244.2,739.1L1245.3,740.1L1246.5,741.1L1247.6,742.0L1248.8,743.0L1250.0,743.9L1251.1,744.8L1252.3,745.8L1253.5,746.7L1254.7,747.6L1255.9,748.5L1257.1,749.4L1258.3,750.2L1259.6,751.1L1260.8,751.9L1262.0,752.8L1263.3,753.6L1264.5,754.4L1265.8,755.2L1267.1,756.0L1268.4,756.8L1269.7,757.6L1270.9,758.3L1272.2,759.1L1273.6,759.8L1274.9,760.5L1276.2,761.2L1277.5,761.9L1278.9,762.6L1280.2,763.2L1281.6,763.9L1282.9,764.5L1284.3,765.2L1285.6,765.8L1287.0,766.4L1288.4,766.9L1289.8,767.5L1291.2,768.1L1292.6,768.6L1294.0,769.1L1295.4,769.6L1296.8,770.1L1298.3,770.6L1299.7,771.0L1301.1,771.5L1302.6,771.9L1304.0,772.3L1305.4,772.7L1306.9,773.0L1308.4,773.4L1309.8,773.7L1311.3,774.1L1312.7,774.4L1314.2,774.7L1315.7,775.0L1317.2,775.2L1318.6,775.5L1320.1,775.8L1321.6,776.0L1323.1,776.2L1324.6,776.4L1326.0,776.6L1327.5,776.8L1329.0,777.0L1330.5,777.2L1332.0,777.4L1333.5,777.5L1335.0,777.7L1336.5,777.8L1338.0,777.9L1339.5,778.1L1340.9,778.2L1342.4,778.3L1343.9,778.4L1345.4,778.5L1346.9,778.6L1348.4,778.7L1349.9,778.8L1351.4,778.9L1352.9,779.0L1354.4,779.0L1355.9,779.1L1357.4,779.2L1358.9,779.2L1360.4,779.3L1361.9,779.4L1363.4,779.4L1364.9,779.5L1366.4,779.5L1367.9,779.6L1369.4,779.6L1370.9,779.7L1372.4,779.7L1373.9,779.8L1375.4,779.8L1376.9,779.9L1378.4,779.9L1379.9,779.9L1381.4,780.0L1382.9,780.0L1384.4,780.0L1385.9,780.1L1387.4,780.1L1388.9,780.1L1390.4,780.1L1391.9,780.2L1393.4,780.2L1394.9,780.2L1396.4,780.2L1397.9,780.2L1399.4,780.2L1400.9,780.3L1402.4,780.3L1403.9,780.3L1405.4,780.3L1406.9,780.3L1408.4,780.3L1409.9,780.3L1411.4,780.3L1412.9,780.3L1414.3,780.4L1415.8,780.4L1417.3,780.4L1418.8,780.4L1420.3,780.4L1421.8,780.4L1423.3,780.4L1424.8,780.4L1426.3,780.4L1427.8,780.4L1429.3,780.4L1430.8,780.4L1432.3,780.5L1433.8,780.5L1435.3,780.5L1436.8,780.5L1438.3,780.5L1439.8,780.5L1441.3,780.5L1442.8,780.5L1444.3,780.5L1445.8,780.5L1447.3,780.6L1448.8,780.6L1450.3,780.6L1451.8,780.6L1453.3,780.6L1454.8,780.6L1456.3,780.6L1457.8,780.6L1459.3,780.6L1460.8,780.7L1462.3,780.7L1463.8,780.7L1465.3,780.7L1466.8,780.7L1468.3,780.7L1469.8,780.7L1471.3,780.7L1472.8,780.8L1474.3,780.8L1475.8,780.8L1477.3,780.8L1478.8,780.8L1480.3,780.8L1481.8,780.8L1483.3,780.9L1484.8,780.9L1486.3,780.9L1487.8,780.9L1489.3,780.9L1490.8,780.9L1492.3,780.9L1493.8,781.0L1495.3,781.0L1496.8,781.0L1498.3,781.0L1499.8,781.0L1501.3,781.0L1502.8,781.0L1504.3,781.1L1505.8,781.1L1507.3,781.1L1508.8,781.1L1510.3,781.1L1511.8,781.1L1513.3,781.2L1514.8,781.2L1516.3,781.2L1517.8,781.2L1519.3,781.2L1520.8,781.2L1522.3,781.2L1523.8,781.3L1525.3,781.3L1526.8,781.3L1528.3,781.3L1529.8,781.3L1531.3,781.3L1532.8,781.4L1534.3,781.4L1535.8,781.4L1537.3,781.4L1538.8,781.4L1540.3,781.4L1541.8,781.5L1543.3,781.5L1544.8,781.5L1546.3,781.5L1547.8,781.5L1549.3,781.5L1550.8,781.6L1552.3,781.6L1553.8,781.6L1555.3,781.6L1556.7,781.6L1558.2,781.6L1559.7,781.7L1561.2,781.7L1562.7,781.7L1564.2,781.7L1565.7,781.7L1567.2,781.7L1568.7,781.7L1570.2,781.8L1571.7,781.8L1573.2,781.8L1574.7,781.8L1576.2,781.8L1577.7,781.8L1579.2,781.9L1580.7,781.9L1582.2,781.9L1583.7,781.9L1585.2,781.9L1586.7,781.9L1588.2,782.0L1589.7,782.0L1591.2,782.0L1592.7,782.0L1594.2,782.0L1595.7,782.0L1597.2,782.0L1598.7,782.1L1600.2,782.1L1601.7,782.1L1603.2,782.1L1604.7,782.1L1606.2,782.1L1607.7,782.1L1609.2,782.2L1610.7,782.2L1612.2,782.2L1613.7,782.2L1615.2,782.2L1616.7,782.2L1618.2,782.2L1619.7,782.3L1621.2,782.3L1622.7,782.3L1624.2,782.3L1625.7,782.3L1627.2,782.3L1628.7,782.3L1630.2,782.4L1631.7,782.4L1633.2,782.4L1634.7,782.4L1636.2,782.4L1637.7,782.4L1639.2,782.4L1640.7,782.4L1642.2,782.5L1643.7,782.5L1645.2,782.5L1646.7,782.5L1648.2,782.5L1649.7,782.5L1651.2,782.5L1652.7,782.5L1654.2,782.6L1655.7,782.6L1657.2,782.6L1658.7,782.6L1660.2,782.6L1661.7,782.6L1663.2,782.6L1664.7,782.6L1666.2,782.7L1667.7,782.7L1669.2,782.7L1670.7,782.7L1672.2,782.7L1673.7,782.7L1675.2,782.7L1676.7,782.7L1678.2,782.7L1679.7,782.8L1681.2,782.8L1682.7,782.8L1684.2,782.8L1685.7,782.8L1687.2,782.8L1688.7,782.8L1690.2,782.8L1691.7,782.8L1693.2,782.9L1694.7,782.9L1696.2,782.9L1697.7,782.9L1699.1,782.9L1700.6,782.9L1702.1,782.9L1703.6,782.9L1705.1,782.9L1706.6,782.9L1708.1,783.0L1709.6,783.0L1711.1,783.0L1712.6,783.0L1714.1,783.0L1715.6,783.0L1717.1,783.0L1718.6,783.0L1720.1,783.0L1721.6,783.0L1723.1,783.1L1724.6,783.1L1726.1,783.1L1727.6,783.1L1729.1,783.1L1730.6,783.1L1732.1,783.1L1733.6,783.1L1735.1,783.1L1736.6,783.1L1738.1,783.1L1739.6,783.1L1741.1,783.2L1742.6,783.2L1744.1,783.2L1745.6,783.2L1747.1,783.2L1748.6,783.2L1750.1,783.2L1751.6,783.2L1753.1,783.2L1754.6,783.2L1756.1,783.2L1757.6,783.2L1759.1,783.2L1760.6,783.2L1762.1,783.3L1763.6,783.3L1765.1,783.3L1766.6,783.3L1768.1,783.3L1769.6,783.3L1771.1,783.3L1772.6,783.3L1774.1,783.3L1775.6,783.3L1777.1,783.3L1778.6,783.3L1780.1,783.3L1781.6,783.3L1783.1,783.3L1784.6,783.3L1786.1,783.3L1787.6,783.3L1789.1,783.4L1790.6,783.4L1792.1,783.4L1793.6,783.4L1795.1,783.4L1796.6,783.4L1798.1,783.4L1799.6,783.4L1801.1,783.4L1802.6,783.4L1804.1,783.4L1805.6,783.4L1807.1,783.4L1808.6,783.4L1810.1,783.4L1811.6,783.4L1813.1,783.4L1814.6,783.4L1816.1,783.4L1817.6,783.4L1819.1,783.4L1820.6,783.4L1822.1,783.4L1823.6,783.4L1825.1,783.4L1826.6,783.4L1828.1,783.5L1829.6,783.5L1831.1,783.5L1832.6,783.5L1834.1,783.5L1835.6,783.5L1837.1,783.5L1838.6,783.5L1840.1,783.5L1841.6,783.5L1843.1,783.5L1844.6,783.5L1846.1,783.5L1847.5,783.5L1849.0,783.5L1850.5,783.5L1852.0,783.5L1853.5,783.5L1855.0,783.5L1856.5,783.5L1858.0,783.5L1859.5,783.5L1861.0,783.5L1862.5,783.5L1864.0,783.5L1865.5,783.5L1867.0,783.5L1868.5,783.5L1870.0,783.5L1871.5,783.5L1873.0,783.5L1874.5,783.5L1876.0,783.5L1877.5,783.5L1879.0,783.5L1880.5,783.5L1882.0,783.5L1883.5,783.5L1885.0,783.5L1886.5,783.5L1888.0,783.5L1889.5,783.5L1891.0,783.5L1892.5,783.5L1894.0,783.5L1895.5,783.5L1897.0,783.5L1898.5,783.4L1900.0,783.4L1901.5,783.4L1903.0,783.4L1904.5,783.4L1906.0,783.4L1907.5,783.4L1909.0,783.4L1910.5,783.4L1912.0,783.4L1913.5,783.4" fill="none" stroke="#0000ff" stroke-width="14.0" stroke-linejoin="round" shape-rendering="crispEdges"/>
</g>
<line x1="335" y1="819.4" x2="488" y2="819.4" stroke="#a0a0a0" stroke-width="13.4" stroke-linecap="round" shape-rendering="crispEdges"/>
<line x1="335" y1="928.3" x2="488" y2="928.3" stroke="#000000" stroke-width="13.4" stroke-linecap="round" shape-rendering="crispEdges"/>
<line x1="335" y1="1037.1" x2="488" y2="1037.1" stroke="#ff0000" stroke-width="13.4" stroke-linecap="round" shape-rendering="crispEdges"/>
<line x1="335" y1="1146.0" x2="488" y2="1146.0" stroke="#0000ff" stroke-width="13.4" stroke-linecap="round" shape-rendering="crispEdges"/>
<g filter="url(#bin)"><text class="lg" transform="translate(505.2,842.1) scale(0.975,1)">Ni/Al<tspan class="s" dy="26.3">2</tspan><tspan dy="-26.3">O</tspan><tspan class="s" dy="26.3">3</tspan></text><text class="lg" transform="translate(505.2,952.0) scale(0.975,1)">Ni/Li<tspan class="s" dy="26.3">2</tspan><tspan dy="-26.3">O-Al</tspan><tspan class="s" dy="26.3">2</tspan><tspan dy="-26.3">O</tspan><tspan class="s" dy="26.3">3</tspan></text><text class="lg" transform="translate(505.2,1058.8) scale(0.975,1)">Ni/Na<tspan class="s" dy="26.3">2</tspan><tspan dy="-26.3">O-Al</tspan><tspan class="s" dy="26.3">2</tspan><tspan dy="-26.3">O</tspan><tspan class="s" dy="26.3">3</tspan></text><text class="lg" transform="translate(505.2,1168.0) scale(0.975,1)">Ni/K<tspan class="s" dy="26.3">2</tspan><tspan dy="-26.3">O-Al</tspan><tspan class="s" dy="26.3">2</tspan><tspan dy="-26.3">O</tspan><tspan class="s" dy="26.3">3</tspan></text></g>
</svg>
</body></html>
